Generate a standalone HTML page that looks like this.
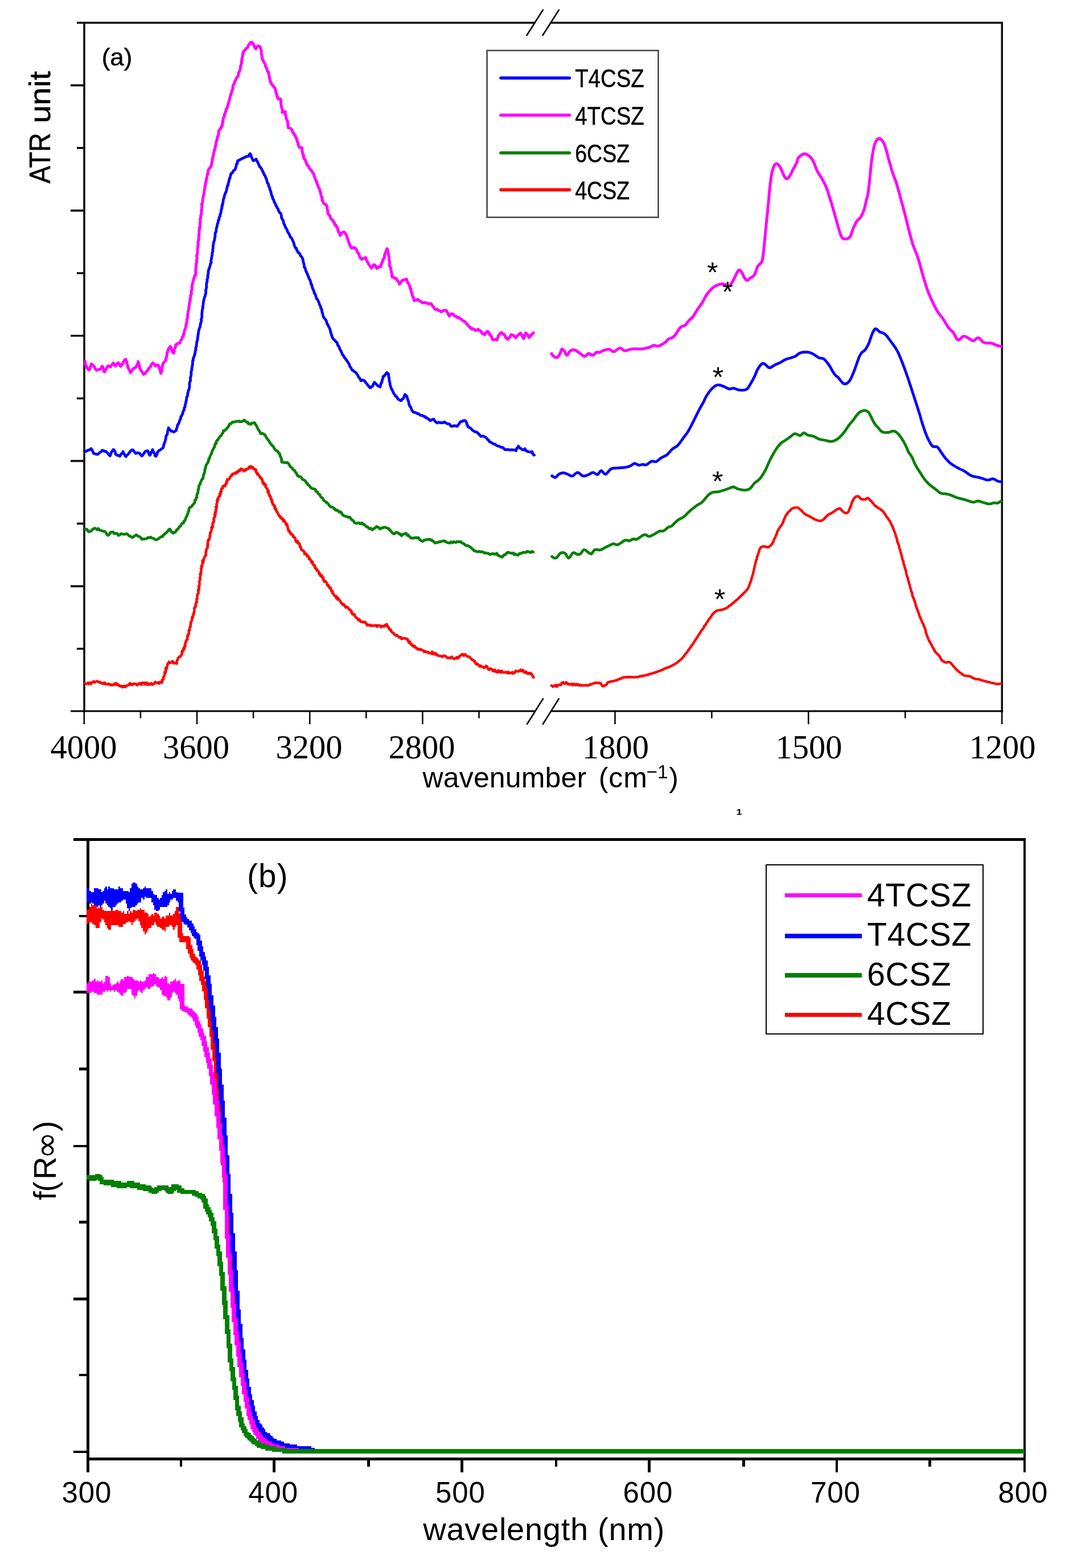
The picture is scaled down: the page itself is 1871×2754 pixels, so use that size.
<!DOCTYPE html>
<html lang="en"><head><meta charset="utf-8"><title>ATR and UV-Vis spectra</title>
<style>html,body{margin:0;padding:0;background:#fff}body{width:1871px;height:2754px;overflow:hidden}svg{display:block}.sa{font-family:"Liberation Sans",sans-serif;fill:#000}.se{font-family:"Liberation Serif",serif;fill:#000}.c{fill:none;stroke-linejoin:round;stroke-linecap:butt}.sw{stroke:#000;stroke-width:.5px}</style></head><body>
<svg width="1871" height="2754" viewBox="0 0 1871 2754">
<rect width="1871" height="2754" fill="#fff"/>
<g id="chart-a">
<path d="M148.0 40.0V1250.8M1760.3 40.0V1250.8M135.0 40.0H939.5M968 40.0H1762.1M124.0 149.9H148.0M135.0 259.9H148.0M124.0 369.9H148.0M135.0 479.8H148.0M124.0 589.8H148.0M135.0 699.7H148.0M124.0 809.6H148.0M135.0 919.6H148.0M124.0 1029.6H148.0M135.0 1139.5H148.0" fill="none" stroke="#111" stroke-width="3.6"/>
<path d="M124.0 1249.0H939.5M968 1249.0H1762.1" fill="none" stroke="#000" stroke-width="3"/>
<path d="M147.8 1249.0v23M246.9 1249.0v12.5M346.0 1249.0v23M445.1 1249.0v12.5M544.2 1249.0v23M643.3 1249.0v12.5M742.4 1249.0v23M841.5 1249.0v12.5M1080.5 1249.0v23M1250.4 1249.0v12.5M1420.3 1249.0v23M1590.3 1249.0v12.5M1760.2 1249.0v23" fill="none" stroke="#000" stroke-width="2.5"/>
<path class="c" stroke="#ff0000" stroke-width="4.4" d="M148.2 1202.0L149.4 1200.4L150.7 1201.2L151.4 1201.4L153.0 1200.8L154.6 1199.2L156.9 1201.7L157.7 1199.0L160.0 1201.3L161.3 1198.8L163.4 1197.1L164.6 1197.6L164.6 1196.6L166.3 1198.8L167.5 1197.6L169.7 1197.0L170.9 1196.1L171.4 1197.0L174.0 1198.1L174.7 1199.0L176.3 1198.1L178.3 1199.9L178.7 1199.7L180.6 1201.2L182.4 1199.2L184.3 1198.9L184.6 1201.6L185.5 1200.8L186.7 1201.8L189.5 1201.7L191.1 1201.0L192.2 1202.4L193.4 1201.8L195.3 1203.5L196.0 1202.4L196.6 1202.5L199.1 1203.5L200.9 1200.8L201.5 1202.1L202.2 1201.3L203.9 1199.9L205.0 1202.9L206.5 1201.5L208.4 1204.4L209.1 1203.3L211.4 1205.5L213.2 1206.0L213.6 1204.8L215.3 1207.0L218.0 1204.6L218.1 1205.3L219.8 1206.7L221.8 1204.8L221.9 1204.3L223.9 1203.8L226.3 1203.2L226.7 1201.8L228.4 1199.8L230.2 1202.7L231.6 1202.9L232.1 1201.5L232.9 1202.6L234.3 1200.6L236.0 1201.1L237.6 1200.8L238.4 1201.3L240.0 1201.9L241.2 1203.6L243.8 1200.6L244.5 1201.1L246.1 1200.0L248.4 1203.0L249.1 1200.8L249.8 1199.1L251.7 1199.5L254.0 1199.2L253.9 1202.3L256.3 1199.4L257.7 1199.0L259.1 1202.8L261.1 1201.8L261.4 1200.6L262.6 1202.3L264.7 1202.4L265.7 1200.0L268.0 1202.6L269.5 1201.6L270.8 1201.0L271.1 1199.8L272.7 1197.7L273.5 1198.3L275.3 1199.6L278.2 1198.6L279.7 1200.7L281.4 1198.3L281.5 1197.8L283.1 1197.7L284.4 1198.9L285.4 1195.9L285.5 1195.7L285.0 1193.8L287.1 1192.9L287.3 1190.3L286.7 1190.1L287.6 1188.7L289.3 1185.8L288.7 1186.4L289.7 1182.0L289.0 1180.5L290.9 1181.6L289.9 1180.2L291.9 1178.1L291.1 1176.3L291.2 1172.8L293.2 1173.8L292.8 1173.4L293.0 1171.7L294.4 1167.9L294.0 1166.9L294.6 1166.7L295.2 1164.7L295.6 1165.3L296.7 1162.3L298.6 1164.1L299.7 1164.4L301.3 1163.1L302.8 1161.3L304.1 1162.2L304.9 1165.1L306.8 1164.4L309.4 1165.2L310.2 1165.6L310.9 1165.1L310.4 1162.6L310.9 1160.0L312.1 1159.3L312.0 1158.7L312.9 1155.9L313.4 1155.0L314.3 1154.7L315.2 1153.0L316.3 1153.5L317.8 1152.2L319.3 1148.8L319.1 1150.1L320.2 1145.7L319.4 1145.6L319.8 1143.5L320.3 1143.8L322.2 1143.3L321.5 1141.3L323.0 1137.8L324.0 1139.6L323.2 1138.3L324.1 1135.2L325.8 1135.2L324.7 1132.2L325.8 1130.5L325.7 1128.9L327.1 1126.4L327.3 1126.6L326.8 1124.7L328.4 1124.0L327.8 1124.4L329.6 1122.9L328.8 1118.8L329.1 1119.3L329.9 1115.3L330.5 1116.8L331.6 1112.9L330.7 1113.9L331.9 1111.7L331.4 1107.8L332.9 1107.7L332.1 1108.2L333.5 1106.2L332.8 1104.9L333.1 1103.5L334.2 1100.1L334.8 1100.8L334.6 1096.3L335.5 1095.3L335.0 1093.5L335.3 1092.2L336.2 1091.2L337.4 1089.6L337.2 1087.7L337.3 1085.7L337.5 1084.2L338.8 1084.8L338.1 1083.0L339.9 1080.2L340.0 1079.9L339.8 1080.0L340.0 1077.3L340.9 1077.7L340.6 1075.6L341.7 1073.4L341.5 1070.9L341.2 1068.6L341.5 1069.4L342.3 1065.8L342.3 1066.9L344.2 1064.8L343.4 1061.7L343.8 1061.1L343.9 1059.6L344.4 1060.2L346.1 1057.2L345.1 1057.4L345.6 1053.7L345.3 1052.4L346.6 1051.4L346.4 1050.0L346.2 1047.7L346.6 1046.8L346.7 1044.0L347.3 1043.4L348.1 1043.1L348.6 1042.2L348.7 1041.6L348.2 1038.1L349.5 1036.0L349.2 1036.5L348.1 1035.8L349.9 1033.6L349.8 1032.9L348.8 1030.4L349.7 1030.2L350.5 1028.8L350.2 1027.6L350.6 1025.4L349.9 1021.5L349.9 1021.4L350.0 1021.8L351.1 1019.6L351.4 1018.4L351.3 1014.4L352.1 1015.8L351.7 1013.6L352.2 1010.4L352.5 1009.7L351.4 1008.4L352.9 1006.7L353.1 1008.3L352.8 1004.6L352.9 1004.3L353.7 1002.7L353.6 999.2L352.9 998.4L354.4 997.2L354.3 994.7L353.6 994.2L355.1 994.4L355.4 991.4L355.4 990.6L355.6 987.9L356.7 986.7L357.1 988.1L355.6 984.8L357.8 985.4L357.8 981.4L358.0 982.6L358.7 979.9L359.2 978.3L361.4 975.5L361.8 975.5L362.2 974.9L361.3 974.2L362.0 969.5L361.4 969.8L362.5 967.7L362.1 966.5L362.7 966.9L362.4 965.2L364.3 961.4L364.7 962.2L364.9 959.2L364.2 958.2L365.6 957.5L364.7 955.5L364.8 952.7L364.7 954.2L365.3 953.2L365.5 949.3L366.4 947.6L366.5 949.1L367.9 947.2L367.8 946.2L368.7 943.4L368.7 940.1L369.1 940.2L369.5 939.6L369.0 935.9L370.6 934.8L370.1 934.2L370.2 934.3L371.8 931.1L371.6 929.9L371.8 928.9L371.4 926.6L371.9 928.0L372.8 924.0L374.0 925.6L373.5 920.9L373.4 919.3L374.1 918.0L374.2 917.2L375.2 918.2L376.0 915.0L375.6 914.0L375.8 911.9L375.4 910.3L377.4 908.3L376.8 908.9L377.7 905.9L376.8 904.6L377.3 904.0L378.6 904.1L378.7 899.6L377.4 900.8L379.3 898.5L378.9 895.3L378.8 897.4L379.9 895.8L380.4 892.1L379.1 890.3L380.1 890.9L381.1 889.7L380.8 888.5L380.7 886.3L380.2 885.7L380.8 884.9L381.8 881.1L381.1 879.6L382.6 879.9L382.1 876.2L383.4 876.8L383.6 874.1L384.5 872.0L384.4 872.3L386.2 871.7L386.6 869.7L385.8 867.5L387.7 867.9L387.0 864.0L387.8 865.2L388.2 862.2L389.1 863.4L388.8 858.7L389.5 858.9L390.7 856.7L391.4 857.4L391.3 854.0L393.4 853.7L394.3 852.6L394.4 853.8L395.7 853.7L396.7 849.4L396.7 848.9L398.2 849.5L397.8 846.0L398.5 846.9L399.0 842.0L399.4 841.9L401.6 842.4L402.5 841.8L404.0 838.3L403.8 839.6L406.0 835.2L407.1 835.5L407.7 834.3L408.5 832.1L409.9 832.4L412.5 830.8L413.7 830.3L413.9 831.8L416.0 829.6L415.8 828.9L417.7 829.8L418.6 826.9L421.2 824.9L421.6 827.1L423.5 823.3L423.7 823.8L427.0 824.9L428.2 827.8L429.0 825.8L431.4 826.3L431.3 825.9L432.7 823.5L433.3 824.5L436.3 823.3L437.6 820.2L437.4 821.1L440.0 822.2L440.2 818.7L441.6 820.6L443.9 820.3L444.9 823.3L446.3 824.3L447.2 823.5L448.0 824.6L449.6 824.7L449.3 828.4L450.2 827.0L450.6 830.0L451.9 832.8L453.8 834.1L453.4 831.8L453.9 834.6L455.8 835.6L455.7 836.6L457.3 838.8L458.3 840.6L458.9 839.1L459.9 841.0L460.1 842.5L461.2 843.1L461.0 844.5L461.5 848.1L463.1 847.2L463.5 850.9L464.4 849.3L465.7 852.1L466.8 851.2L466.5 855.2L468.0 856.7L467.0 855.7L467.7 856.6L469.9 859.4L470.3 859.9L470.8 861.5L470.2 864.1L472.0 862.8L471.9 866.1L471.7 866.4L472.1 867.1L472.9 869.9L474.2 869.7L473.6 871.5L475.4 872.3L475.2 873.7L476.7 876.3L475.9 875.9L477.0 878.9L478.0 878.5L477.7 882.1L478.7 881.8L479.1 885.7L479.6 885.5L480.4 886.2L482.0 889.6L481.7 887.8L483.1 889.1L482.4 893.0L483.8 894.0L484.5 895.4L485.2 894.0L485.1 896.7L486.9 899.3L486.5 899.5L487.7 900.3L488.0 900.7L489.4 904.4L489.2 904.0L491.2 907.0L490.7 905.1L492.8 909.6L492.6 907.3L494.5 909.6L495.5 911.6L496.4 910.9L497.4 912.2L497.7 915.6L499.6 914.1L499.5 916.0L501.1 917.0L501.4 917.5L503.1 921.3L502.3 921.4L504.2 920.7L504.9 922.3L505.0 925.3L505.6 925.7L505.7 928.0L506.2 929.7L506.8 930.1L506.5 932.1L507.9 932.0L509.0 935.4L509.3 934.2L510.2 935.1L510.5 937.5L511.3 938.6L513.0 938.2L514.2 939.5L515.3 943.3L515.7 941.7L516.6 944.0L518.4 944.3L519.1 948.7L519.8 949.1L519.7 950.9L521.1 951.9L522.7 950.1L523.3 954.2L522.7 953.2L524.8 953.6L525.9 955.2L526.5 955.9L526.7 960.1L526.9 958.8L528.3 960.2L528.2 960.8L529.2 964.9L531.0 965.9L530.8 966.7L531.5 966.9L533.3 967.4L534.5 969.4L534.9 971.7L534.9 973.3L536.8 972.1L538.0 972.8L539.3 975.1L539.0 976.9L540.0 975.8L541.5 976.5L542.6 978.4L543.1 982.3L543.9 982.2L544.3 980.8L544.7 982.5L546.7 984.7L547.3 987.7L547.4 986.3L549.2 986.7L548.7 989.2L549.7 990.4L550.7 992.4L552.2 992.2L553.1 994.4L552.9 997.3L553.9 995.5L554.4 998.6L556.7 1000.3L556.6 999.5L556.6 1002.2L558.5 1002.2L559.4 1003.8L560.8 1006.0L560.3 1007.9L560.8 1007.6L562.3 1007.7L562.5 1010.9L563.2 1011.2L565.8 1010.8L565.2 1013.7L566.7 1015.0L568.1 1014.4L568.0 1016.1L568.3 1019.5L570.5 1020.0L569.9 1021.6L572.1 1021.4L572.9 1022.5L572.8 1022.3L573.6 1023.2L574.7 1027.1L576.1 1028.7L577.0 1027.6L577.5 1029.5L578.7 1031.0L578.5 1032.6L580.6 1032.2L581.2 1032.6L580.9 1034.7L582.6 1038.5L583.4 1037.4L584.4 1038.6L584.0 1042.0L585.5 1042.3L586.4 1044.6L586.8 1045.3L588.0 1046.5L588.6 1047.1L589.8 1046.5L590.2 1048.8L591.0 1050.9L592.1 1048.6L593.1 1053.1L594.6 1051.2L595.0 1051.9L597.3 1055.2L598.3 1056.6L598.1 1057.1L599.7 1059.0L601.6 1060.4L601.2 1061.5L603.8 1062.9L603.3 1061.2L604.3 1061.7L606.7 1065.8L607.3 1067.0L608.6 1065.7L608.9 1065.8L611.4 1067.0L611.9 1068.7L612.7 1068.9L614.5 1071.4L615.5 1071.2L617.4 1073.2L618.0 1075.0L617.2 1075.5L618.8 1078.2L619.4 1079.3L620.8 1078.3L622.5 1078.8L623.4 1080.0L622.9 1081.1L625.4 1084.9L625.1 1084.0L627.0 1086.1L627.5 1085.9L628.9 1088.1L629.8 1089.4L630.9 1087.6L632.7 1089.6L632.9 1090.8L634.1 1092.1L636.5 1092.9L637.6 1091.9L638.5 1092.8L640.7 1092.4L641.9 1092.9L641.9 1094.5L644.5 1096.1L644.8 1098.3L645.9 1097.0L647.9 1098.3L649.7 1098.2L650.3 1097.2L651.4 1099.4L653.7 1099.3L654.2 1098.4L656.8 1099.1L657.0 1098.9L659.8 1098.2L659.9 1098.5L662.3 1100.7L662.6 1098.2L664.2 1099.0L666.1 1098.4L667.2 1098.6L669.8 1100.8L669.6 1101.8L671.2 1099.3L674.4 1100.5L675.5 1098.8L676.1 1099.3L677.5 1097.3L679.6 1096.4L680.5 1100.5L682.0 1100.7L682.8 1101.8L682.8 1103.6L684.2 1105.4L686.0 1105.5L686.3 1107.9L687.1 1107.1L688.8 1110.7L690.1 1111.2L691.4 1112.2L692.1 1112.5L692.6 1114.3L693.3 1114.6L696.0 1116.4L697.1 1115.3L698.1 1116.8L699.9 1117.3L701.3 1119.9L701.8 1119.5L704.3 1119.2L705.1 1122.1L705.9 1120.6L707.7 1121.7L710.7 1120.8L710.7 1121.2L713.2 1121.9L714.7 1121.8L716.2 1122.5L716.3 1125.3L716.7 1125.4L718.0 1126.9L718.3 1128.9L719.7 1126.5L720.4 1129.0L720.8 1130.2L722.4 1132.5L723.5 1131.6L724.5 1134.2L727.1 1134.1L727.0 1135.9L728.5 1134.5L729.3 1137.4L731.8 1137.6L732.4 1138.1L733.1 1140.4L734.8 1139.9L737.0 1141.3L737.8 1140.0L739.3 1140.1L741.2 1141.7L742.6 1142.1L743.1 1142.7L744.6 1143.2L745.2 1145.4L747.2 1143.8L748.6 1145.0L750.3 1145.8L752.2 1144.9L754.1 1147.0L753.9 1147.2L756.9 1147.2L756.9 1147.6L759.2 1144.7L759.5 1148.8L762.1 1146.5L762.5 1146.6L764.1 1149.5L765.7 1147.5L768.2 1150.4L768.2 1151.3L770.5 1151.3L772.0 1152.2L773.6 1152.4L773.9 1152.2L776.0 1152.8L777.2 1153.7L778.9 1151.7L779.7 1151.6L781.6 1151.7L783.0 1152.4L784.5 1154.1L786.0 1155.9L786.4 1155.9L788.8 1155.0L790.6 1156.2L791.5 1154.7L794.0 1153.5L794.9 1155.8L795.2 1155.8L797.9 1157.2L798.6 1157.5L800.4 1155.8L802.6 1154.2L803.7 1156.6L804.1 1156.5L805.3 1154.2L806.8 1154.4L807.3 1152.2L808.8 1151.8L810.7 1149.9L811.9 1149.4L812.8 1148.9L814.4 1151.6L816.3 1150.9L817.3 1149.1L818.4 1150.9L820.2 1152.4L820.3 1153.0L823.1 1153.1L822.7 1152.9L823.8 1153.3L826.7 1155.7L827.4 1157.2L828.9 1157.6L829.4 1158.7L830.6 1159.6L831.6 1159.2L832.7 1161.2L833.9 1160.9L833.9 1161.7L836.0 1166.1L836.9 1165.1L838.4 1167.4L839.2 1166.1L839.9 1167.4L841.2 1168.1L843.0 1170.7L843.1 1170.1L844.3 1169.1L847.0 1171.5L848.5 1171.7L848.3 1171.2L851.0 1173.1L853.3 1171.1L853.8 1169.5L855.6 1170.7L856.0 1170.8L857.1 1174.1L858.7 1176.0L860.0 1176.4L861.4 1174.0L863.9 1175.7L865.3 1175.8L865.4 1178.4L868.1 1179.1L869.6 1176.5L870.8 1179.2L871.9 1180.4L872.9 1180.9L875.2 1177.6L875.2 1180.4L878.2 1178.3L878.6 1180.8L879.7 1181.4L881.8 1178.4L882.9 1180.5L884.5 1180.9L885.3 1181.5L887.2 1180.9L889.1 1180.2L890.0 1181.7L892.5 1181.8L893.2 1180.0L893.6 1182.7L896.2 1182.2L896.9 1181.5L899.6 1182.5L900.3 1180.6L901.4 1182.9L902.6 1181.5L904.4 1181.7L906.1 1178.8L906.0 1178.2L908.1 1178.8L910.2 1179.4L910.1 1178.6L913.2 1178.7L914.3 1176.4L916.4 1178.5L917.7 1178.9L918.3 1176.5L920.0 1180.1L920.6 1180.7L923.2 1179.6L923.9 1182.1L925.2 1180.6L926.4 1182.9L929.0 1182.1L929.2 1183.6L932.1 1181.7L933.3 1184.5L934.8 1184.4L935.0 1186.0L935.4 1185.8L936.3 1189.0L937.6 1189.8L938.9 1190.9"/>
<path class="c" stroke="#ff0000" stroke-width="4.4" d="M968.0 1205.8L968.7 1203.9L970.6 1205.1L971.4 1206.1L973.5 1204.1L975.1 1204.6L976.8 1203.1L978.1 1206.3L980.1 1204.0L981.2 1202.7L982.8 1202.6L984.3 1203.0L985.7 1203.0L986.7 1199.2L988.1 1199.1L989.4 1198.3L991.2 1200.6L992.7 1200.8L994.7 1198.3L996.0 1199.6L997.2 1201.7L998.9 1201.0L1000.8 1202.6L1002.4 1201.4L1003.8 1201.1L1005.8 1203.5L1006.8 1201.0L1008.5 1201.9L1010.6 1203.4L1012.1 1201.2L1013.7 1202.9L1015.1 1203.7L1016.1 1201.8L1018.4 1203.9L1019.9 1202.8L1021.4 1204.2L1022.6 1203.6L1024.3 1203.5L1026.0 1203.8L1027.4 1203.8L1029.3 1203.3L1030.8 1203.3L1031.8 1204.3L1033.5 1203.8L1035.6 1203.1L1036.6 1201.7L1038.3 1202.2L1040.4 1201.3L1041.7 1200.4L1043.7 1200.3L1045.2 1199.4L1046.6 1198.9L1048.7 1199.6L1049.8 1200.0L1051.4 1199.2L1052.6 1199.1L1054.9 1199.8L1055.8 1201.2L1057.1 1203.2L1058.1 1204.6L1059.2 1205.4L1061.0 1204.7L1062.1 1204.4L1063.0 1203.4L1064.3 1203.3L1066.0 1201.8L1066.7 1199.6L1069.1 1198.2L1070.2 1198.0L1071.9 1197.2L1073.3 1197.2L1074.4 1196.4L1076.7 1196.7L1077.9 1196.2L1080.1 1195.5L1081.5 1195.0L1082.7 1195.4L1084.6 1194.1L1085.6 1193.4L1087.4 1193.3L1088.6 1192.3L1090.2 1192.2L1091.7 1191.5L1092.6 1190.3L1094.4 1190.2L1095.8 1189.4L1097.5 1189.5L1099.1 1189.9L1100.4 1188.9L1102.3 1189.3L1103.9 1189.1L1104.9 1189.7L1106.6 1189.0L1108.2 1189.4L1109.5 1189.3L1111.4 1189.2L1112.6 1189.4L1114.7 1189.5L1115.9 1189.3L1117.5 1189.3L1118.9 1189.3L1121.4 1188.7L1122.5 1188.5L1124.0 1187.8L1125.9 1187.7L1126.8 1187.3L1128.5 1187.7L1130.0 1186.7L1132.1 1186.4L1133.2 1186.4L1135.3 1186.0L1137.0 1185.2L1138.6 1185.3L1139.3 1184.4L1141.1 1184.3L1142.4 1183.6L1143.9 1183.1L1145.5 1183.3L1146.6 1182.5L1148.5 1181.7L1150.0 1181.8L1151.1 1180.9L1152.9 1180.5L1154.0 1180.3L1155.8 1179.2L1156.9 1178.7L1158.5 1178.6L1160.3 1177.9L1161.8 1177.3L1162.6 1176.4L1164.8 1176.2L1165.6 1175.2L1167.3 1174.6L1168.5 1173.8L1170.0 1173.5L1171.1 1172.7L1173.3 1172.6L1174.6 1172.0L1175.8 1171.6L1177.2 1170.5L1178.4 1170.0L1179.8 1169.4L1181.2 1169.0L1182.5 1167.9L1183.7 1167.3L1185.3 1166.5L1186.1 1166.0L1187.2 1165.2L1189.2 1164.3L1190.0 1163.4L1191.5 1162.3L1192.5 1161.3L1193.9 1160.4L1195.2 1159.1L1196.0 1158.3L1197.6 1157.4L1198.3 1156.4L1199.0 1155.4L1200.2 1154.1L1201.3 1152.9L1202.0 1151.6L1202.9 1150.5L1204.0 1149.3L1204.6 1147.9L1206.3 1146.6L1207.0 1145.5L1207.7 1144.6L1208.6 1143.2L1209.4 1141.6L1210.8 1140.6L1211.1 1139.3L1212.2 1138.3L1212.8 1136.7L1214.4 1135.8L1214.6 1134.2L1215.6 1133.2L1216.6 1132.0L1217.6 1130.5L1218.4 1129.4L1219.2 1127.9L1220.0 1126.8L1221.0 1125.1L1221.8 1123.8L1222.5 1122.9L1223.2 1121.9L1224.1 1120.2L1225.1 1119.3L1225.8 1117.7L1226.5 1116.5L1227.6 1115.1L1228.1 1114.0L1229.0 1112.6L1230.2 1111.6L1230.8 1110.1L1231.4 1108.8L1232.2 1107.7L1233.4 1106.1L1234.5 1105.0L1235.3 1104.0L1236.2 1102.4L1236.6 1101.5L1237.2 1099.6L1238.5 1098.6L1239.7 1097.4L1240.2 1096.1L1241.1 1094.5L1242.1 1093.1L1242.7 1091.9L1243.6 1090.8L1244.6 1089.3L1245.0 1088.1L1246.0 1087.0L1247.0 1086.1L1248.0 1084.8L1248.8 1083.3L1250.3 1081.6L1251.0 1080.4L1251.7 1078.8L1253.3 1077.9L1253.9 1076.3L1255.2 1075.6L1256.2 1074.9L1257.5 1073.7L1258.3 1072.9L1260.2 1072.4L1261.6 1071.9L1263.6 1071.8L1265.0 1071.8L1266.9 1071.0L1268.3 1071.2L1269.7 1070.7L1270.9 1069.9L1272.9 1069.5L1274.1 1068.8L1275.2 1068.4L1276.3 1067.7L1277.9 1067.1L1279.4 1065.8L1280.2 1064.8L1281.9 1063.9L1282.7 1063.0L1284.3 1062.3L1285.7 1061.2L1286.6 1059.7L1288.5 1058.7L1289.8 1057.7L1290.6 1056.6L1291.7 1055.9L1293.4 1054.5L1294.5 1053.4L1295.4 1052.6L1296.9 1051.5L1297.9 1050.3L1298.9 1048.9L1300.6 1048.1L1301.3 1047.0L1302.8 1045.6L1303.8 1044.9L1304.9 1043.8L1305.9 1042.3L1307.5 1041.1L1308.4 1040.3L1309.6 1039.1L1310.5 1037.6L1311.6 1036.5L1312.9 1035.5L1313.6 1034.1L1314.4 1032.9L1315.0 1031.6L1315.3 1030.8L1316.0 1029.1L1316.5 1027.7L1317.1 1025.9L1317.9 1024.9L1317.9 1023.8L1318.3 1022.3L1319.3 1020.8L1319.4 1019.7L1320.2 1017.9L1320.2 1016.7L1320.7 1015.3L1321.0 1013.7L1321.6 1011.8L1322.0 1010.1L1322.6 1008.8L1323.1 1007.6L1323.1 1006.0L1323.6 1004.5L1324.2 1003.0L1324.3 1001.7L1324.4 1000.3L1324.9 998.7L1325.4 997.1L1325.6 995.4L1325.8 994.4L1326.3 992.8L1326.5 991.4L1327.1 989.8L1327.4 988.0L1327.9 986.6L1328.1 985.3L1328.6 983.6L1329.5 982.3L1329.9 980.9L1329.7 979.1L1330.0 977.9L1330.9 976.4L1331.1 975.2L1331.7 973.8L1332.4 972.0L1332.8 970.2L1333.0 968.9L1334.0 967.2L1334.1 965.4L1334.8 964.2L1335.5 963.1L1336.0 962.1L1337.9 960.6L1339.7 960.1L1341.2 959.7L1342.6 959.8L1344.1 959.7L1346.1 960.7L1347.2 961.0L1349.3 961.3L1349.9 960.7L1351.2 960.3L1352.6 959.5L1354.3 957.8L1355.5 956.4L1356.2 955.6L1356.6 954.0L1357.8 952.9L1358.5 951.6L1359.0 950.2L1359.6 948.4L1359.9 947.0L1360.9 945.4L1362.0 943.6L1362.5 942.2L1363.1 941.2L1363.4 939.5L1364.6 938.1L1364.9 936.4L1365.1 934.9L1366.0 933.4L1366.6 932.0L1367.5 930.9L1367.8 929.4L1368.9 928.0L1370.1 926.6L1370.5 925.6L1371.3 924.3L1372.4 923.2L1373.5 921.8L1374.1 920.2L1375.0 918.8L1375.8 917.6L1376.0 915.8L1376.8 914.2L1377.2 912.6L1378.0 911.3L1378.8 909.5L1379.4 908.2L1380.0 906.8L1380.3 905.6L1382.0 904.2L1382.1 902.9L1383.6 901.7L1383.8 900.7L1385.2 899.3L1386.2 898.2L1387.6 897.4L1388.5 896.5L1389.7 895.0L1390.6 893.9L1391.6 893.4L1393.4 892.4L1394.5 891.9L1396.7 891.7L1397.8 891.4L1399.9 891.4L1400.9 891.4L1402.7 892.0L1403.6 893.0L1404.9 894.2L1406.0 895.0L1407.5 896.4L1408.9 897.6L1410.1 899.0L1411.0 900.2L1412.0 901.4L1413.8 902.4L1415.1 903.2L1416.2 904.4L1417.3 904.5L1419.0 905.3L1420.6 905.8L1422.1 906.9L1423.5 907.4L1424.4 908.3L1426.0 909.0L1427.2 909.8L1428.8 910.9L1430.4 911.3L1431.2 912.2L1432.8 912.7L1434.1 913.2L1435.9 913.9L1438.1 914.5L1439.6 914.9L1441.2 914.8L1442.5 914.5L1443.9 914.3L1444.8 913.6L1446.6 912.7L1447.5 911.5L1448.5 910.8L1449.5 909.2L1451.3 908.0L1452.0 906.7L1453.5 905.4L1454.8 904.3L1456.5 903.2L1457.7 902.4L1459.9 902.0L1460.9 901.3L1462.3 900.1L1463.9 899.2L1465.2 898.4L1466.4 897.4L1467.6 896.5L1469.2 895.5L1470.8 894.4L1472.4 893.9L1474.0 893.2L1475.7 893.0L1477.2 894.0L1477.7 895.4L1479.2 896.7L1480.9 898.4L1482.0 899.3L1483.7 900.2L1484.9 901.1L1486.3 901.5L1487.9 901.0L1489.2 900.3L1490.2 899.4L1490.9 898.0L1491.7 896.7L1491.9 895.0L1492.8 893.3L1493.6 892.1L1493.7 890.5L1494.7 889.3L1495.2 887.3L1495.6 885.8L1496.1 884.6L1496.3 883.2L1497.3 881.6L1497.4 880.5L1498.9 878.7L1499.3 876.8L1500.2 875.8L1501.2 874.5L1502.2 873.6L1503.8 872.1L1505.8 871.6L1507.3 871.8L1508.7 872.0L1509.5 873.2L1510.9 874.8L1512.4 875.6L1513.2 876.9L1515.3 877.2L1516.7 877.3L1518.6 877.4L1520.1 877.4L1521.1 876.3L1522.7 875.3L1524.6 874.6L1525.5 875.3L1526.9 876.4L1528.1 877.5L1529.1 879.1L1530.8 880.3L1531.9 881.8L1532.6 882.7L1534.2 884.0L1534.9 885.5L1536.1 886.9L1537.5 888.4L1539.2 889.1L1540.1 890.5L1541.7 891.4L1543.0 892.2L1544.3 893.0L1546.1 894.1L1547.6 895.0L1548.5 896.0L1550.1 897.0L1551.2 898.0L1552.2 899.3L1552.8 900.5L1553.9 902.1L1555.0 903.1L1555.7 904.4L1556.7 905.8L1557.4 907.6L1558.7 908.7L1559.7 909.9L1560.3 911.1L1561.3 912.6L1562.5 914.1L1563.6 915.5L1564.4 917.0L1564.6 918.4L1565.8 920.3L1566.3 921.5L1566.9 922.9L1567.2 924.0L1568.5 925.3L1568.5 926.6L1569.0 928.1L1570.0 929.5L1570.3 931.0L1571.0 932.9L1571.6 934.1L1572.3 936.1L1572.6 937.0L1573.2 938.7L1573.3 939.7L1573.6 941.2L1574.6 942.7L1575.0 943.8L1575.0 945.5L1575.7 946.8L1576.2 948.3L1576.1 949.9L1576.6 951.5L1577.3 953.1L1578.0 954.6L1578.4 956.2L1579.1 957.8L1579.6 958.9L1579.7 960.7L1579.8 961.8L1580.1 963.2L1581.0 964.7L1581.5 966.4L1581.7 968.0L1582.1 969.6L1582.6 970.9L1583.1 972.5L1583.5 974.3L1584.0 975.6L1584.4 977.5L1584.6 978.7L1585.1 980.6L1585.2 981.7L1585.9 983.6L1586.5 984.9L1587.1 986.4L1587.4 987.8L1587.2 989.3L1587.6 991.0L1588.5 992.3L1589.2 993.9L1589.0 995.3L1589.8 997.2L1589.8 998.3L1590.7 999.9L1591.3 1001.5L1591.4 1002.9L1592.0 1004.5L1592.0 1006.2L1592.3 1007.6L1592.6 1009.1L1593.3 1010.7L1593.5 1012.0L1594.2 1013.7L1595.0 1015.0L1594.8 1016.3L1595.3 1017.9L1595.6 1019.3L1596.5 1020.9L1596.5 1022.6L1596.8 1023.8L1597.1 1025.4L1598.1 1026.6L1598.4 1028.4L1598.4 1029.6L1599.0 1031.4L1599.2 1032.8L1599.9 1034.1L1600.3 1035.9L1600.5 1037.4L1601.1 1038.9L1602.0 1040.2L1602.5 1042.2L1602.4 1043.1L1602.7 1045.0L1603.1 1046.4L1603.7 1047.8L1604.2 1049.1L1605.1 1050.6L1605.4 1052.5L1606.2 1054.1L1606.9 1055.2L1606.9 1057.2L1607.8 1058.4L1608.2 1060.1L1608.6 1061.5L1608.8 1063.5L1609.6 1064.9L1609.9 1066.2L1610.4 1067.6L1610.9 1069.1L1611.4 1070.4L1612.1 1071.4L1612.4 1072.8L1613.2 1073.8L1613.0 1075.2L1614.3 1077.4L1614.5 1079.0L1615.0 1080.5L1615.3 1082.0L1616.0 1083.2L1616.4 1084.0L1617.1 1085.5L1617.5 1086.6L1618.1 1088.2L1618.9 1089.5L1619.1 1090.7L1619.8 1092.4L1620.4 1093.5L1621.1 1094.8L1622.2 1096.1L1622.6 1098.0L1622.9 1099.3L1623.7 1100.6L1624.1 1102.1L1625.1 1103.8L1625.6 1104.8L1625.8 1106.4L1626.2 1108.0L1626.4 1109.8L1626.5 1111.1L1627.6 1112.5L1627.8 1114.2L1627.9 1115.4L1628.8 1116.7L1629.2 1118.0L1629.7 1119.7L1630.5 1121.0L1631.1 1122.5L1631.5 1123.9L1632.2 1125.4L1633.1 1126.6L1633.9 1127.9L1634.4 1129.1L1635.7 1130.8L1636.2 1132.2L1637.2 1133.5L1637.5 1135.3L1638.5 1136.8L1639.6 1138.5L1640.5 1139.6L1640.9 1141.4L1642.1 1142.4L1642.3 1143.8L1643.0 1144.9L1645.0 1146.8L1646.0 1147.8L1647.2 1149.3L1648.7 1150.1L1649.6 1151.5L1650.7 1152.4L1651.4 1153.9L1652.0 1155.3L1652.7 1156.8L1653.4 1157.9L1654.2 1159.3L1655.2 1160.2L1656.9 1161.3L1657.9 1162.1L1659.6 1162.7L1660.8 1163.5L1662.0 1163.5L1664.1 1163.4L1665.4 1162.8L1667.1 1162.9L1668.8 1163.3L1669.7 1164.2L1671.1 1165.1L1671.7 1166.4L1673.2 1167.5L1674.2 1169.1L1674.9 1170.4L1675.9 1171.2L1677.2 1172.5L1678.1 1173.7L1679.5 1174.9L1680.0 1176.0L1681.6 1177.1L1683.2 1178.2L1684.0 1179.4L1685.1 1180.1L1686.4 1181.3L1687.8 1182.2L1688.9 1182.8L1690.4 1184.0L1691.8 1185.0L1692.5 1185.4L1693.7 1186.3L1695.3 1186.5L1697.5 1187.1L1698.5 1187.2L1700.5 1187.2L1701.6 1187.5L1703.4 1187.8L1705.3 1188.5L1706.6 1188.8L1707.6 1189.8L1708.7 1190.8L1710.3 1191.2L1711.6 1191.9L1713.3 1192.5L1714.8 1192.9L1715.9 1192.9L1718.0 1193.1L1719.6 1193.0L1720.5 1193.3L1722.3 1193.9L1723.7 1194.6L1725.5 1195.1L1727.5 1195.5L1729.0 1196.0L1729.8 1196.3L1731.7 1196.7L1733.3 1197.0L1734.8 1197.6L1736.5 1197.9L1738.6 1198.2L1739.8 1198.8L1741.4 1199.2L1742.7 1199.5L1744.9 1199.8L1746.7 1200.2L1748.1 1200.7L1749.9 1201.2L1751.2 1201.4L1753.0 1201.5L1754.5 1201.2L1756.7 1200.9L1758.3 1200.7L1759.0 1200.4L1760.3 1200.4"/>
<path class="c" stroke="#008000" stroke-width="4.8" d="M148.2 928.0L149.0 928.4L150.7 930.3L153.1 929.6L154.2 932.3L156.1 933.9L158.3 933.6L160.8 932.0L162.9 929.6L165.4 928.2L168.0 928.0L170.6 930.5L172.7 928.4L174.9 930.9L176.9 931.6L179.0 932.3L182.0 933.2L184.1 933.3L185.9 934.9L187.6 938.8L189.2 939.1L190.0 940.3L192.2 938.3L194.0 935.0L195.0 934.6L197.2 934.7L198.7 934.5L201.0 937.4L203.9 936.6L206.1 937.0L207.8 940.3L210.0 939.9L212.9 937.3L215.0 938.0L217.5 938.4L219.9 938.2L222.2 937.4L224.6 938.6L226.7 941.4L228.9 941.6L230.3 942.8L232.5 944.2L234.5 942.8L236.8 941.1L239.1 939.4L240.5 940.2L242.3 941.5L244.6 942.2L245.2 942.8L247.7 944.4L248.8 947.1L250.7 946.7L253.1 946.8L256.0 946.2L257.9 946.1L260.1 944.0L262.2 944.6L264.7 943.3L266.2 944.7L269.1 945.5L271.4 946.5L273.2 948.0L275.3 948.0L277.0 947.0L279.5 945.4L281.8 943.5L283.2 942.6L285.1 942.7L287.1 939.5L288.1 939.3L290.6 936.3L291.7 936.4L293.6 933.9L295.1 932.6L296.9 929.9L298.5 929.3L299.4 930.5L300.7 934.1L302.9 934.6L304.0 936.6L305.4 935.0L307.2 935.1L309.6 932.8L310.5 930.2L312.5 929.5L314.1 927.0L314.9 925.2L317.4 924.0L318.0 922.2L319.9 919.2L322.3 918.9L323.0 915.4L324.2 915.4L325.4 912.8L326.3 910.8L327.1 907.8L328.4 906.6L329.3 903.2L330.2 901.7L330.9 898.5L331.8 898.1L331.6 896.2L332.4 892.4L334.3 890.6L335.9 890.4L337.7 888.0L338.9 886.3L341.0 884.1L342.2 882.4L342.4 878.4L343.7 878.2L344.2 875.5L345.8 873.9L345.7 871.0L346.2 867.6L347.7 866.0L347.9 863.8L348.0 860.8L348.5 860.0L349.4 856.2L349.1 853.8L350.4 851.8L351.5 850.6L351.9 848.0L353.0 846.2L354.3 842.5L356.5 840.6L356.1 839.6L357.2 837.4L357.5 834.1L358.8 831.8L359.5 828.7L359.9 826.3L360.1 823.6L360.2 823.8L361.2 821.1L361.9 817.7L362.6 816.0L364.6 813.7L364.9 812.6L366.5 809.7L366.3 807.3L367.7 805.9L368.5 802.9L369.8 799.9L370.5 798.4L371.9 795.7L372.1 794.7L372.7 792.1L374.5 789.2L375.2 787.5L376.8 785.3L377.6 781.3L378.0 779.4L379.8 779.2L379.8 776.2L381.6 772.9L382.6 772.8L384.2 769.7L385.6 767.9L386.6 766.3L388.5 765.0L389.5 763.2L390.2 762.0L391.9 759.4L392.6 756.1L395.1 756.3L397.5 753.4L398.8 752.3L401.0 749.5L402.1 747.6L402.8 745.4L404.0 744.3L406.2 744.0L407.4 741.8L410.6 741.1L412.0 741.3L413.9 740.4L416.5 740.2L419.8 739.5L421.3 740.8L424.2 740.3L427.0 739.7L429.1 737.7L431.5 739.8L433.1 741.5L435.2 741.7L436.5 744.6L438.6 744.2L440.6 745.3L442.9 743.1L445.1 742.9L446.5 742.3L447.6 742.5L448.6 745.2L450.6 747.6L451.4 749.9L452.0 750.7L453.8 754.5L454.8 755.9L456.1 757.3L457.3 760.3L457.6 761.5L461.4 761.4L463.7 762.7L465.6 763.8L467.1 766.9L467.7 767.4L469.0 769.7L470.9 772.8L472.5 774.2L473.5 776.2L474.7 778.7L476.7 780.5L477.3 781.9L479.4 783.2L481.0 786.1L482.1 787.7L483.3 789.6L484.3 790.8L486.6 792.1L487.6 792.3L489.6 795.8L490.8 795.8L491.4 797.8L492.7 802.3L493.5 803.0L494.0 804.5L494.9 807.4L494.5 810.5L495.4 811.8L497.9 812.0L501.2 812.6L503.1 812.3L504.8 812.5L507.1 814.5L508.3 816.8L509.7 819.1L511.3 820.9L513.6 821.9L514.2 824.2L515.6 825.3L517.4 826.0L519.1 829.5L520.4 830.5L521.6 832.8L522.6 835.3L525.0 837.0L526.7 837.1L528.6 837.8L529.7 839.3L531.5 842.1L533.6 842.8L535.0 843.5L536.9 845.1L538.2 848.1L540.2 849.2L541.3 851.7L542.9 852.4L545.0 855.4L547.1 857.4L550.2 858.6L553.1 858.9L553.7 859.3L555.0 862.8L557.3 863.9L558.1 865.0L559.4 867.5L561.9 868.4L562.1 869.8L563.9 873.4L565.9 874.0L566.6 874.7L568.2 878.0L570.2 880.2L572.4 881.3L573.4 882.9L574.5 882.6L576.6 885.3L577.8 886.2L579.3 889.2L582.0 890.7L584.2 890.7L585.7 892.0L587.6 894.5L588.5 893.7L590.4 896.5L593.0 896.2L595.8 899.4L597.7 898.7L600.5 901.2L600.1 902.2L602.9 905.2L604.9 906.2L606.6 906.7L610.2 907.6L611.8 908.7L614.4 908.2L616.4 911.1L618.3 913.3L619.6 913.6L621.5 915.4L622.8 918.2L625.7 919.0L627.8 918.9L631.0 918.4L632.9 920.1L636.2 918.4L638.3 921.3L640.2 921.4L642.8 924.1L644.5 925.5L645.7 925.4L648.8 928.8L650.7 927.6L654.2 930.7L656.2 928.7L659.3 927.2L661.4 924.8L662.5 925.3L665.4 926.5L667.8 929.2L669.1 928.5L671.5 926.8L673.8 926.5L677.2 925.9L678.1 926.8L681.0 927.8L683.0 928.3L684.4 930.7L685.0 930.6L686.9 933.1L687.9 934.3L689.6 936.3L692.4 937.8L694.6 935.5L697.4 935.1L699.1 935.9L701.8 938.1L703.0 937.9L705.5 940.9L708.3 938.1L710.3 937.8L713.4 936.6L715.1 940.3L717.2 939.4L718.2 941.2L720.9 944.1L722.6 945.3L725.1 945.0L728.0 945.0L730.8 944.0L733.1 945.2L735.0 944.3L737.1 947.6L738.8 948.8L740.6 950.1L743.1 950.7L745.1 948.9L747.4 948.2L749.3 947.7L752.7 947.5L754.8 947.0L756.6 948.9L758.4 948.3L759.6 949.9L761.2 950.7L764.2 953.8L765.9 953.0L768.9 952.9L771.3 951.5L772.7 951.8L775.4 950.9L777.8 950.3L781.1 949.8L783.1 951.6L785.6 952.8L788.0 953.3L790.9 953.9L792.6 951.7L795.4 953.2L797.5 951.3L800.9 952.9L802.7 951.2L805.8 951.6L808.4 951.4L809.6 951.4L811.2 953.7L813.2 953.8L816.1 956.0L817.4 957.3L819.3 958.6L821.3 958.1L823.3 959.2L826.1 960.7L828.2 962.8L831.4 965.2L832.6 967.3L834.6 967.5L837.0 968.6L839.8 969.0L842.1 968.4L844.6 969.4L846.7 968.9L849.0 969.7L851.3 971.5L853.4 971.0L854.9 971.5L858.5 972.2L860.5 974.1L863.1 972.9L864.9 972.5L868.6 973.0L870.7 973.3L872.6 971.8L874.7 975.1L877.3 976.7L879.9 977.3L882.0 978.8L884.1 976.2L886.3 974.1L887.9 974.4L889.8 971.9L892.3 970.0L894.0 970.4L896.6 971.2L899.3 971.9L902.0 971.2L903.8 974.3L905.4 973.2L907.7 974.5L910.1 975.1L912.0 972.6L914.9 971.8L917.0 971.5L919.2 969.9L921.9 970.3L925.0 969.9L926.3 968.4L929.5 969.4L932.1 970.6L934.5 968.5L937.0 969.7L938.9 969.8"/>
<path class="c" stroke="#008000" stroke-width="4.8" d="M968.0 976.1L970.6 978.3L973.7 980.2L976.1 980.2L978.5 978.7L980.4 976.4L982.5 973.5L984.8 971.4L987.4 970.6L990.2 970.7L992.7 971.7L994.4 973.7L995.9 976.6L997.4 979.2L999.1 980.2L1000.9 978.8L1002.9 975.8L1005.0 972.6L1007.0 970.7L1009.8 971.1L1012.5 972.9L1014.9 974.2L1019.7 973.0L1021.7 970.5L1023.8 967.3L1026.0 965.4L1029.2 966.5L1032.3 969.2L1035.5 971.8L1038.7 973.0L1040.7 971.0L1042.7 967.7L1045.0 965.4L1047.9 965.2L1051.2 965.9L1054.5 966.0L1056.8 965.2L1058.9 964.1L1061.3 962.7L1064.0 961.2L1066.2 960.2L1068.7 958.9L1071.3 957.6L1073.9 956.4L1076.3 955.5L1078.2 954.9L1081.4 956.2L1084.6 957.1L1086.6 956.2L1089.0 954.7L1091.7 952.9L1094.4 951.1L1096.8 949.5L1098.8 948.6L1102.4 949.1L1105.2 950.2L1107.8 949.1L1110.6 947.4L1113.1 946.4L1117.8 947.6L1119.7 946.6L1122.1 945.1L1124.8 943.2L1127.4 941.4L1130.0 939.9L1132.1 939.1L1135.1 939.5L1137.5 941.3L1140.0 942.2L1142.3 941.8L1144.6 940.7L1147.1 939.4L1149.5 938.1L1151.9 936.7L1154.4 935.2L1156.8 933.7L1159.0 932.7L1162.2 932.9L1165.3 932.7L1167.6 931.3L1170.2 929.2L1172.7 927.0L1174.8 925.5L1179.6 924.2L1181.1 922.9L1182.8 921.2L1184.7 919.3L1186.7 917.3L1188.7 915.4L1190.7 913.7L1192.9 912.2L1195.2 911.0L1197.5 909.9L1199.7 908.7L1201.7 907.4L1203.9 905.5L1205.8 903.6L1207.6 901.5L1209.7 899.5L1212.0 897.4L1214.5 895.3L1217.0 893.3L1219.2 891.6L1221.4 889.8L1223.4 888.3L1225.5 886.8L1227.9 885.5L1230.5 884.2L1233.4 882.1L1235.1 880.3L1237.0 878.1L1238.9 875.7L1240.9 873.3L1242.8 871.2L1244.5 869.4L1247.4 867.1L1249.9 865.6L1252.4 864.7L1255.0 864.2L1257.6 864.2L1260.3 864.0L1263.4 863.3L1266.6 862.5L1269.8 861.5L1272.2 860.7L1274.6 860.0L1276.9 859.1L1279.3 858.3L1281.8 857.4L1284.3 856.3L1286.7 855.5L1288.8 855.2L1291.8 856.4L1295.2 858.3L1297.3 859.0L1299.9 859.6L1302.7 860.2L1305.4 860.7L1307.8 860.9L1311.3 860.7L1314.4 859.9L1317.3 858.3L1319.4 856.4L1321.3 853.9L1323.2 851.3L1325.2 848.8L1327.5 846.9L1329.9 845.2L1332.3 843.3L1334.7 840.9L1336.3 838.9L1338.0 836.7L1339.6 834.4L1341.2 831.9L1342.7 829.3L1344.2 826.7L1345.4 824.3L1346.6 821.9L1347.7 819.4L1348.7 816.9L1349.8 814.3L1351.0 811.8L1352.2 809.2L1353.4 806.7L1354.8 804.1L1356.1 801.5L1357.5 799.0L1358.9 796.5L1360.3 794.1L1361.7 791.8L1363.2 789.4L1364.8 787.0L1366.4 784.8L1368.0 782.7L1369.6 780.9L1371.2 779.2L1373.5 777.1L1375.9 775.6L1378.3 774.2L1380.5 772.8L1383.2 770.9L1385.8 769.0L1388.4 767.1L1391.0 765.0L1393.6 762.9L1396.3 761.7L1398.7 762.1L1401.2 763.3L1403.6 764.5L1405.8 764.9L1408.2 763.6L1410.2 761.4L1412.2 760.2L1415.0 761.6L1418.5 764.0L1421.0 764.6L1423.8 765.2L1426.8 765.7L1429.6 766.5L1432.0 767.6L1434.3 768.9L1436.6 770.2L1439.1 771.2L1441.7 772.0L1444.5 772.5L1447.4 773.0L1450.2 773.5L1452.9 774.1L1455.7 774.9L1458.5 775.4L1461.2 775.4L1464.0 774.7L1466.8 773.7L1469.6 772.2L1472.3 770.3L1474.2 768.7L1476.1 766.9L1478.1 764.9L1480.0 762.7L1481.7 760.6L1483.4 758.6L1485.2 756.2L1486.8 753.8L1488.3 751.4L1489.8 749.1L1491.3 746.9L1493.3 744.4L1495.3 742.0L1497.3 739.8L1499.2 737.4L1500.9 735.2L1502.5 733.0L1504.1 730.7L1505.7 728.7L1507.2 726.9L1509.4 724.8L1511.6 723.3L1513.5 722.2L1518.2 720.9L1521.4 721.3L1524.6 722.8L1526.2 724.6L1527.7 727.1L1529.3 730.1L1530.5 732.3L1531.7 734.9L1532.9 737.7L1534.3 740.3L1535.7 742.7L1537.6 745.4L1539.6 747.9L1541.7 750.2L1543.6 752.2L1545.6 754.8L1547.5 757.0L1549.9 758.6L1552.4 759.3L1555.4 759.6L1558.3 759.7L1561.0 759.5L1563.9 758.7L1566.4 757.5L1568.9 757.0L1571.5 757.5L1574.2 758.8L1576.8 760.8L1578.4 762.5L1580.1 764.5L1581.7 766.7L1583.3 769.0L1584.7 771.2L1586.1 773.4L1587.5 775.6L1588.7 777.9L1589.9 780.1L1591.1 782.3L1592.3 785.1L1593.5 788.0L1594.6 790.8L1595.8 793.4L1597.3 795.8L1598.9 798.0L1600.5 800.2L1602.2 802.9L1603.2 805.0L1604.2 807.4L1605.2 809.8L1606.3 812.4L1607.3 814.8L1608.5 817.2L1610.0 819.8L1611.5 822.4L1613.2 824.9L1614.8 827.4L1616.4 829.8L1618.0 832.3L1619.6 834.9L1621.2 837.3L1622.7 839.7L1624.3 841.9L1626.3 844.3L1628.3 846.5L1630.3 848.5L1632.2 850.4L1634.3 852.2L1636.3 853.8L1638.3 855.3L1640.2 856.7L1642.4 858.4L1644.4 860.0L1646.5 861.5L1648.3 863.2L1650.1 864.8L1652.8 866.2L1655.2 866.8L1658.0 867.1L1661.0 867.4L1664.1 867.8L1667.1 868.5L1669.5 869.2L1671.9 870.2L1674.3 871.3L1676.7 872.3L1679.0 873.3L1681.3 874.2L1683.9 874.9L1686.4 875.5L1688.8 876.1L1691.3 876.6L1694.0 877.3L1696.5 878.1L1699.3 879.1L1702.2 880.0L1705.0 881.0L1707.6 881.7L1709.8 882.1L1712.9 881.7L1715.2 880.5L1717.7 879.9L1720.3 880.3L1723.2 881.2L1726.1 882.2L1728.8 883.0L1732.2 884.0L1735.3 884.9L1738.3 885.2L1741.1 884.7L1743.8 883.7L1746.2 883.0L1749.4 883.5L1752.6 883.7L1755.3 882.3L1758.2 880.3L1760.3 878.9"/>
<path class="c" stroke="#0000ff" stroke-width="4.8" d="M148.2 793.4L148.7 792.9L151.9 792.5L154.1 791.0L155.9 790.4L157.8 790.0L160.0 787.9L161.8 790.6L162.2 791.6L163.9 794.6L164.4 796.5L168.3 797.4L171.0 798.2L173.3 796.7L174.9 795.3L177.6 793.4L179.5 790.9L181.7 791.3L183.1 792.9L185.9 792.6L187.2 794.1L189.4 795.9L191.1 798.7L193.5 800.6L194.4 797.9L195.1 796.2L196.4 793.1L197.7 791.8L198.8 789.6L200.1 790.1L201.4 792.1L202.7 794.7L203.1 797.7L204.3 798.6L206.5 799.8L208.2 799.8L210.5 801.4L211.8 799.1L213.4 797.0L215.2 795.7L216.2 792.9L217.3 796.7L218.4 797.4L219.9 800.7L221.3 802.0L222.1 800.3L223.9 798.9L225.1 797.8L226.8 795.7L229.0 792.6L230.9 791.0L231.9 790.1L233.8 790.4L235.7 793.1L238.2 796.4L240.8 795.4L244.4 795.6L245.8 796.9L246.9 798.3L249.0 800.9L250.7 799.7L252.5 796.4L253.2 796.0L255.2 792.8L257.7 792.1L259.6 791.6L261.0 794.8L261.6 797.6L263.2 799.7L264.4 798.0L265.0 794.9L266.8 793.0L268.0 789.6L269.4 793.2L269.8 794.8L271.7 796.7L272.3 800.5L273.9 801.4L274.9 799.5L275.9 798.2L276.5 795.0L277.7 792.9L279.6 791.1L282.0 790.1L283.2 788.8L285.7 787.2L286.7 785.9L287.4 782.7L288.0 780.2L288.8 778.3L289.1 777.7L290.1 775.3L290.5 772.7L291.2 771.2L291.3 768.6L292.1 765.3L293.3 763.8L294.0 762.0L294.4 758.4L294.5 756.8L295.9 754.1L295.9 751.3L297.6 754.2L299.0 754.9L300.8 757.4L303.1 757.6L305.4 758.7L309.5 756.3L309.6 754.9L310.4 752.5L311.3 750.0L311.7 747.5L312.6 745.3L313.9 744.3L314.3 742.3L315.6 739.3L316.2 736.7L317.6 735.2L317.6 732.1L319.1 730.3L320.1 727.7L321.1 726.6L321.3 723.9L322.1 721.9L323.5 719.9L323.7 716.3L324.9 715.0L325.1 712.1L326.0 709.3L326.6 707.1L326.7 704.9L327.5 703.0L327.5 700.4L328.2 697.3L329.2 695.8L329.7 693.9L329.8 690.4L330.8 688.0L330.8 685.7L332.0 684.6L332.4 682.5L333.0 678.9L332.9 677.5L332.9 675.0L333.2 671.6L334.0 669.6L334.7 668.8L334.5 665.1L334.5 663.5L335.2 661.0L335.7 659.0L336.0 655.9L335.6 654.2L336.3 651.7L336.8 649.4L336.8 647.6L337.5 645.9L337.4 643.0L338.3 641.7L338.3 637.8L338.4 636.6L338.6 633.2L339.6 632.6L339.4 629.6L340.6 627.2L340.7 626.0L342.1 623.3L342.1 621.1L342.8 620.1L343.1 616.6L344.1 614.1L343.8 611.8L344.2 610.5L345.2 607.6L344.9 606.6L345.5 603.6L345.5 601.2L346.7 598.8L346.3 597.9L347.3 596.0L347.2 593.9L347.7 590.4L347.9 589.1L348.5 585.8L348.3 585.2L348.8 582.6L349.6 579.1L350.1 577.1L351.4 574.1L351.9 572.1L351.8 570.6L352.6 567.1L353.2 566.0L353.9 563.2L353.3 561.2L354.2 559.2L354.8 555.7L354.9 554.4L354.6 551.1L355.0 548.8L355.2 546.0L355.3 545.2L355.8 542.4L356.5 540.3L356.1 538.3L356.9 536.1L357.1 533.3L357.4 530.0L357.9 528.0L358.6 525.2L358.9 523.4L359.8 521.1L360.4 519.9L361.0 516.2L361.7 515.1L361.7 512.7L361.3 510.9L362.1 507.9L362.2 506.3L362.9 504.2L362.6 500.9L362.9 498.2L363.3 495.8L364.1 494.0L363.6 491.4L364.6 489.5L364.6 487.6L365.2 486.5L365.0 483.6L365.8 481.1L366.1 479.4L365.8 477.4L366.7 473.6L367.4 472.8L368.0 469.8L368.6 468.4L369.5 464.8L369.9 462.8L371.2 461.2L370.7 459.3L370.9 456.4L371.6 454.3L371.9 450.7L372.3 449.9L372.9 446.6L372.7 445.1L373.6 441.7L374.0 440.9L373.8 437.4L374.4 436.1L374.2 432.6L374.7 431.1L374.9 428.4L375.5 426.3L375.6 424.6L376.9 421.5L377.1 418.5L377.6 416.9L377.9 415.2L377.9 413.0L378.2 408.9L378.9 408.4L379.8 406.2L379.8 403.8L380.3 400.0L381.0 399.1L381.4 396.4L381.9 393.6L382.7 391.8L383.4 388.8L383.5 387.0L384.9 385.6L385.0 382.4L386.0 380.1L386.7 379.3L386.8 376.5L387.8 374.6L388.2 372.3L388.3 370.4L389.4 366.6L389.9 365.2L389.6 362.3L390.8 361.3L390.6 358.7L391.6 357.6L391.8 354.9L392.2 351.6L392.6 349.8L393.7 347.3L394.0 344.8L394.6 342.5L395.5 340.8L396.1 338.5L397.1 337.2L397.8 334.8L398.5 331.0L399.3 328.6L399.5 326.3L400.6 325.9L400.9 322.6L401.5 320.4L402.3 318.3L402.3 317.1L403.3 313.2L404.2 312.5L404.3 310.2L405.4 307.5L405.5 305.2L407.2 304.0L409.0 302.7L410.0 299.6L412.3 298.6L413.6 296.4L414.1 294.6L415.1 291.1L415.5 288.2L417.1 287.2L417.0 283.8L418.2 281.8L420.2 281.6L422.3 279.8L425.0 278.9L426.7 277.5L428.7 277.2L431.2 275.6L433.5 274.8L436.2 274.7L438.1 271.1L439.6 269.8L440.2 271.6L440.9 272.8L441.7 276.1L442.6 277.1L443.3 279.2L444.8 282.3L447.6 281.1L450.0 279.5L450.4 281.7L451.7 282.5L453.0 286.0L453.6 286.7L455.0 290.2L456.0 292.6L456.7 292.7L458.1 294.5L459.9 297.6L460.6 298.6L461.9 301.8L463.5 304.9L464.4 307.3L465.7 308.5L466.3 310.4L467.8 314.1L468.3 314.6L468.6 316.8L469.5 320.1L470.0 321.9L471.5 323.0L472.0 326.7L472.9 328.2L473.9 330.6L474.0 332.3L475.3 335.3L476.0 336.8L475.9 338.2L476.9 341.3L477.2 343.6L478.7 345.2L478.8 348.0L480.1 350.0L481.2 352.4L481.9 355.1L483.4 357.3L483.9 358.4L484.6 360.5L486.3 363.6L487.3 365.6L488.6 367.3L489.1 369.5L490.2 371.2L491.2 373.6L492.6 374.5L493.8 376.2L494.5 379.7L494.4 381.9L495.5 384.4L496.3 385.6L497.3 387.0L497.9 389.2L498.1 391.4L499.4 394.2L500.3 395.8L501.3 398.6L501.8 400.3L503.4 401.7L504.4 403.8L505.2 407.0L506.8 409.2L507.4 410.3L508.8 412.7L509.5 414.9L510.5 417.0L511.6 417.3L512.9 419.4L513.7 421.3L515.0 424.3L515.7 425.6L516.5 428.1L517.1 431.1L517.8 432.4L518.8 435.2L520.6 435.7L521.1 438.6L522.7 441.2L523.7 443.6L524.9 444.0L526.9 446.0L527.6 448.8L529.1 450.2L531.1 452.9L531.5 454.6L532.3 456.7L532.8 459.7L533.5 462.2L533.8 463.9L534.6 465.9L534.4 469.0L535.7 470.7L536.5 471.9L537.1 475.2L538.5 477.5L538.6 479.1L539.9 480.7L540.3 482.3L541.5 485.1L542.2 487.0L543.4 489.9L544.2 490.9L545.3 493.5L546.2 496.9L546.1 498.4L547.7 500.2L548.1 502.3L548.4 504.3L549.3 506.6L550.6 509.4L551.7 511.9L552.0 514.5L553.2 515.8L554.4 518.2L554.8 520.1L555.7 523.0L556.5 525.1L557.3 525.3L558.7 527.8L559.6 529.7L560.8 532.9L561.6 535.6L562.8 537.2L563.2 537.9L563.3 540.9L564.9 542.8L565.2 544.3L565.8 548.2L566.6 550.1L566.8 551.0L567.6 554.4L568.3 556.7L569.5 558.7L570.8 559.7L572.3 562.0L573.1 563.4L574.3 567.3L574.6 569.0L575.8 569.9L577.0 573.0L578.6 575.8L579.3 577.2L579.7 578.4L580.5 581.3L580.8 584.1L581.4 584.7L582.0 586.8L583.2 590.2L583.4 591.7L584.6 593.9L586.0 595.8L587.2 596.7L589.2 599.0L591.1 600.9L592.7 602.8L593.1 605.5L594.5 607.5L595.9 609.6L596.9 613.0L597.8 614.6L599.3 617.1L599.7 618.3L600.9 620.9L602.1 623.7L603.8 625.1L605.2 628.4L606.3 628.9L607.7 631.2L609.7 634.0L610.5 635.0L611.5 636.9L613.7 640.0L614.2 642.4L615.3 644.5L616.7 646.1L618.3 649.7L620.0 650.3L622.1 652.5L623.9 653.6L626.1 655.1L627.3 657.6L628.5 659.1L630.3 663.0L631.2 663.6L632.8 665.6L633.8 668.6L637.0 667.6L639.8 668.3L642.0 671.0L642.4 672.0L644.0 673.3L645.5 675.8L646.9 677.3L649.4 680.4L651.3 681.1L652.6 679.2L654.0 678.5L655.2 677.1L655.9 674.7L658.0 671.6L659.9 673.4L662.5 676.6L665.0 678.1L667.7 679.7L668.3 678.1L669.2 674.0L669.5 673.2L671.0 670.9L671.0 669.2L672.3 665.5L672.7 664.4L673.0 661.0L674.8 660.7L676.8 657.6L678.2 656.5L679.6 654.2L681.2 655.9L682.8 657.3L682.4 659.5L683.0 661.4L683.3 664.0L683.9 665.7L683.9 668.6L684.5 670.7L685.0 672.5L685.2 675.0L685.8 678.1L686.8 679.8L687.3 682.7L688.5 683.6L689.3 685.7L690.7 688.6L691.5 690.4L692.2 691.9L693.9 693.6L695.5 696.5L697.5 697.3L698.6 700.5L701.1 701.8L703.2 703.5L704.9 703.8L706.3 701.5L708.2 700.3L709.1 698.9L710.5 695.2L711.3 692.8L715.0 696.3L715.3 697.7L715.8 700.1L716.9 703.1L717.7 705.2L718.0 706.5L718.5 709.8L719.1 710.3L720.1 714.0L721.7 715.1L722.6 718.4L723.1 719.2L724.4 721.8L726.2 724.1L728.9 724.3L731.4 725.2L733.2 726.7L735.7 726.7L737.8 729.0L739.8 729.6L742.2 729.5L743.7 731.2L746.4 731.3L747.9 733.8L750.5 733.9L752.1 736.0L753.7 736.3L755.7 738.9L758.0 737.9L759.7 736.6L762.0 736.2L763.6 738.8L764.9 740.6L766.6 741.9L768.2 742.9L770.9 741.5L773.9 742.7L775.9 742.4L778.6 742.5L780.7 740.9L783.0 742.6L785.7 744.2L787.5 744.4L789.9 745.0L791.5 747.5L793.8 749.1L795.8 748.3L798.3 747.6L800.5 748.0L803.2 748.9L804.6 746.8L806.1 745.3L807.6 742.7L808.4 741.5L809.5 740.3L812.0 740.0L814.8 738.6L817.7 738.8L818.3 739.9L819.9 742.6L820.0 745.2L821.4 746.6L822.2 749.8L824.1 750.5L826.6 752.0L827.9 753.2L830.1 755.7L831.8 756.8L834.7 758.4L838.1 759.2L839.6 761.0L840.9 762.0L843.4 764.9L844.7 766.5L847.6 765.9L850.5 766.8L852.6 767.6L854.1 768.9L855.7 770.6L857.2 772.5L858.8 773.7L860.3 776.2L862.3 776.8L865.3 778.5L867.6 780.1L869.9 780.2L872.1 782.4L874.6 783.3L876.8 783.7L879.8 785.5L881.9 785.4L884.2 786.6L886.9 789.8L889.1 789.8L891.5 789.4L893.9 789.8L895.5 790.3L898.3 790.0L901.1 790.2L904.0 790.4L906.6 791.5L907.0 789.5L908.2 787.0L909.9 785.1L910.6 783.5L912.3 786.3L914.6 787.8L916.2 788.5L917.6 789.8L920.1 790.1L922.3 788.1L923.8 791.4L926.3 792.7L928.8 793.7L931.8 793.8L935.0 793.3L935.5 796.3L936.6 797.9L938.2 798.8L938.9 801.3"/>
<path class="c" stroke="#0000ff" stroke-width="4.8" d="M968.0 834.6L970.0 836.0L972.7 837.9L975.3 838.7L977.5 837.4L979.5 835.0L981.7 833.0L984.2 831.7L986.9 830.8L989.6 830.5L992.2 830.9L994.9 831.9L997.5 833.0L1000.1 834.4L1002.7 835.8L1005.4 836.2L1007.7 834.9L1010.1 832.8L1012.5 830.7L1014.9 829.8L1017.3 830.7L1019.7 832.8L1022.0 834.9L1024.4 836.2L1027.6 836.0L1030.9 834.9L1033.9 833.6L1036.7 832.2L1039.3 830.6L1041.8 829.8L1044.5 830.9L1047.2 832.9L1049.7 833.6L1051.9 831.6L1053.9 828.4L1056.1 826.7L1057.9 827.7L1059.8 830.0L1061.9 832.2L1064.0 833.0L1065.7 832.0L1067.5 830.0L1069.4 827.5L1071.4 825.1L1073.5 823.5L1075.9 822.7L1078.4 822.3L1081.1 822.1L1083.7 822.1L1086.2 821.9L1089.1 821.7L1091.9 821.5L1094.6 821.3L1097.2 821.0L1100.6 820.4L1103.8 819.7L1106.7 818.7L1109.5 817.1L1112.1 815.1L1114.7 814.0L1117.4 814.6L1120.1 816.2L1122.6 817.2L1125.8 816.5L1128.9 815.6L1131.9 816.4L1135.2 816.5L1137.4 815.3L1139.9 813.4L1142.4 811.5L1144.7 810.2L1147.4 810.2L1150.0 810.9L1152.7 810.8L1154.9 809.6L1157.3 807.7L1159.7 805.6L1162.2 803.9L1164.5 802.6L1166.9 801.5L1169.3 800.4L1171.7 798.8L1173.6 797.0L1175.5 794.9L1177.4 792.7L1179.3 790.5L1181.2 788.7L1183.5 787.0L1185.9 785.7L1188.3 784.3L1190.7 782.3L1192.2 780.6L1193.8 778.6L1195.4 776.4L1197.0 774.2L1198.6 771.9L1200.2 769.7L1201.7 767.5L1203.3 765.5L1204.9 763.4L1206.5 761.2L1208.1 758.9L1209.7 756.4L1210.8 754.3L1212.0 752.1L1213.2 749.9L1214.4 747.5L1215.6 745.2L1216.8 742.8L1218.0 740.4L1219.2 738.0L1220.4 735.6L1221.6 733.1L1222.9 730.6L1224.1 728.0L1225.3 725.6L1226.5 723.2L1227.6 721.0L1228.7 719.0L1230.1 716.3L1231.4 714.1L1232.6 712.1L1233.8 710.1L1235.0 707.9L1236.2 705.5L1237.4 702.9L1238.6 700.3L1239.9 697.7L1241.3 695.2L1242.7 693.0L1244.3 690.7L1245.9 688.4L1247.5 686.2L1249.2 684.2L1250.8 682.5L1253.2 680.3L1255.5 678.4L1257.8 677.0L1260.3 676.2L1263.0 676.1L1265.9 676.7L1268.7 677.7L1271.4 678.7L1273.9 679.8L1276.4 681.1L1278.7 682.4L1280.9 683.1L1283.6 683.0L1286.1 682.2L1288.8 681.9L1291.0 682.4L1293.3 683.4L1295.7 684.4L1298.3 685.0L1300.8 685.2L1303.5 685.3L1306.2 685.2L1308.8 684.8L1311.0 684.1L1313.0 682.7L1314.5 680.9L1315.8 678.7L1317.3 676.2L1318.6 674.1L1319.9 671.9L1321.3 669.4L1322.7 666.9L1324.0 664.4L1325.2 661.9L1326.4 659.5L1327.4 657.0L1328.4 654.5L1329.4 652.1L1330.4 649.8L1331.6 647.7L1333.5 644.7L1335.5 641.8L1337.6 639.5L1339.5 638.2L1342.8 638.8L1345.8 641.3L1347.8 643.2L1349.8 645.2L1352.2 646.1L1354.3 645.4L1356.7 643.9L1359.2 642.2L1361.7 640.7L1364.0 639.6L1366.4 638.6L1368.8 637.7L1371.2 636.6L1373.4 635.3L1375.5 633.9L1377.8 632.5L1380.7 631.2L1383.0 630.3L1385.7 629.5L1388.6 628.7L1391.4 627.9L1394.1 627.0L1396.5 626.1L1399.2 624.5L1401.4 622.7L1403.5 621.0L1406.0 619.8L1408.4 619.1L1411.0 618.7L1413.7 618.5L1416.3 618.4L1418.7 618.5L1421.2 618.9L1423.5 619.6L1425.7 620.5L1428.2 621.7L1430.3 622.9L1432.6 624.5L1435.0 626.1L1437.2 627.5L1439.2 628.7L1442.0 629.2L1444.4 629.2L1447.0 630.2L1448.8 631.8L1450.7 633.8L1452.6 636.1L1454.6 638.7L1456.5 641.3L1457.9 643.4L1459.3 645.8L1460.7 648.3L1462.1 650.8L1463.5 653.2L1464.8 655.4L1466.0 657.2L1468.3 659.7L1470.2 661.1L1472.3 662.9L1474.3 665.1L1476.3 667.8L1478.4 670.4L1480.2 672.4L1483.0 674.3L1485.6 674.3L1487.9 673.3L1490.4 671.4L1492.9 668.2L1494.0 666.4L1495.1 664.2L1496.3 661.8L1497.4 659.2L1498.5 656.5L1499.7 653.7L1500.8 650.8L1501.7 648.5L1502.6 646.0L1503.6 643.3L1504.5 640.6L1505.4 637.9L1506.3 635.2L1507.2 632.8L1508.0 630.6L1508.7 628.7L1510.1 625.4L1511.2 623.2L1512.3 621.5L1513.5 619.8L1515.5 617.9L1517.7 616.5L1519.8 614.4L1521.1 612.7L1522.4 610.7L1523.6 608.5L1524.9 606.0L1526.2 603.3L1527.1 601.1L1528.0 598.6L1528.9 595.8L1529.8 593.1L1530.7 590.4L1531.6 588.0L1532.5 585.9L1533.9 582.8L1535.3 580.2L1536.7 578.3L1538.2 577.4L1540.3 578.2L1542.6 580.5L1545.2 582.7L1547.4 583.7L1549.8 584.4L1552.2 585.3L1554.7 586.9L1556.2 588.3L1557.8 590.0L1559.3 592.0L1560.9 594.1L1562.5 596.3L1564.2 598.6L1565.7 600.6L1567.3 602.8L1569.0 605.0L1570.6 607.3L1572.3 609.6L1573.8 612.0L1575.2 614.4L1576.5 616.7L1577.7 619.0L1578.8 621.3L1579.8 623.7L1580.9 626.2L1582.0 628.9L1583.2 631.8L1584.0 634.0L1585.0 636.3L1585.9 638.7L1586.8 641.2L1587.8 643.8L1588.8 646.4L1589.8 649.1L1590.7 651.8L1591.7 654.5L1592.7 657.2L1593.4 659.4L1594.2 661.6L1595.0 663.8L1595.7 666.0L1596.5 668.3L1597.2 670.5L1598.0 672.9L1598.8 675.2L1599.6 677.7L1600.4 680.2L1601.3 682.9L1602.2 685.7L1602.9 687.9L1603.6 690.2L1604.5 692.7L1605.3 695.3L1606.1 697.9L1607.0 700.6L1607.9 703.3L1608.8 706.1L1609.7 708.8L1610.5 711.4L1611.3 714.0L1612.1 716.5L1612.9 718.8L1613.6 721.0L1614.2 723.1L1614.8 724.9L1616.1 728.9L1616.9 731.9L1617.6 734.3L1618.2 736.4L1618.8 738.6L1619.6 741.2L1620.3 743.4L1621.0 745.8L1621.8 748.3L1622.6 750.8L1623.5 753.3L1624.3 755.7L1625.1 758.0L1625.9 760.2L1627.0 762.9L1628.0 765.4L1629.1 767.9L1630.1 770.2L1631.2 772.4L1632.2 774.4L1633.8 777.3L1635.3 780.0L1636.9 782.3L1638.6 783.9L1641.2 784.6L1643.9 784.3L1646.5 784.9L1648.1 786.4L1649.7 788.5L1651.2 790.9L1652.8 793.4L1654.3 795.5L1655.8 797.7L1657.4 800.1L1659.0 802.3L1660.7 804.5L1662.5 806.5L1664.3 808.5L1666.1 810.4L1668.1 812.2L1670.2 814.0L1672.6 815.7L1675.2 817.4L1677.8 819.0L1680.4 820.5L1682.9 821.9L1685.8 823.4L1688.4 824.6L1691.1 825.8L1694.0 827.3L1696.0 828.6L1698.0 830.0L1700.0 831.5L1702.1 833.0L1704.3 834.4L1706.7 835.5L1709.1 836.4L1711.8 837.1L1714.6 837.7L1717.3 838.2L1720.0 838.7L1722.5 839.3L1725.3 840.2L1727.9 841.1L1730.5 842.0L1732.9 842.8L1735.2 843.1L1738.6 842.6L1741.7 841.4L1744.7 840.9L1747.4 841.9L1750.0 843.6L1752.6 845.0L1755.4 845.7L1758.3 846.1L1760.3 846.3"/>
<path class="c" stroke="#ff00ff" stroke-width="5.0" d="M148.2 635.0L149.6 634.7L149.9 637.4L150.1 640.3L151.8 643.0L152.1 643.8L153.4 647.2L155.2 648.5L156.4 650.0L157.8 648.5L158.1 647.1L158.7 644.7L159.7 642.7L160.3 639.2L163.0 641.3L164.8 643.1L165.9 644.6L167.0 647.3L168.7 649.2L170.4 650.4L173.0 648.8L175.7 648.7L177.1 647.8L178.1 645.8L179.1 643.3L180.7 644.4L180.7 647.1L182.2 648.7L182.9 652.7L184.1 653.1L184.7 652.0L185.6 649.5L186.9 647.2L187.8 645.9L188.1 643.9L190.8 642.6L194.1 644.7L195.5 641.7L197.4 639.8L199.1 637.5L201.1 640.9L203.1 642.9L204.2 641.1L206.4 637.9L207.7 637.1L208.3 639.4L210.3 639.5L210.7 641.5L211.8 643.5L213.2 641.9L214.1 640.4L215.3 639.2L216.8 635.6L218.4 633.0L220.8 630.9L221.9 634.6L222.9 635.3L222.5 638.8L223.6 641.3L224.3 641.9L224.6 645.6L226.1 646.9L227.1 650.2L228.6 652.0L228.8 654.4L231.1 652.1L232.3 650.1L233.6 647.8L235.5 647.0L238.5 645.1L238.9 644.9L240.7 640.7L241.3 640.1L242.5 637.6L242.7 635.1L244.0 638.3L244.0 640.3L245.1 642.5L244.9 644.2L245.9 646.7L246.5 647.8L247.4 650.3L249.4 652.5L250.9 655.8L252.2 657.7L254.0 656.6L255.9 654.5L258.2 651.6L259.8 650.3L261.4 647.3L263.1 645.6L265.0 643.4L265.7 640.7L267.7 638.5L268.6 637.4L270.0 639.3L271.6 639.9L273.0 642.8L276.2 641.1L277.9 641.3L278.4 642.0L279.4 644.8L280.7 648.0L280.5 649.3L281.5 650.2L282.2 654.4L282.8 655.8L283.8 652.3L284.6 650.1L284.4 649.3L284.6 646.2L285.3 644.2L285.7 641.2L286.5 638.7L287.7 636.9L289.6 634.6L291.3 633.2L291.1 630.6L292.3 628.0L292.7 625.9L293.4 624.5L293.4 623.4L293.3 619.3L294.5 618.4L295.0 615.5L295.9 613.3L297.0 611.5L298.4 609.6L299.2 608.4L299.8 610.9L301.1 611.6L301.4 614.4L302.7 617.0L303.3 618.4L304.7 620.2L305.5 619.4L306.2 617.3L306.0 614.7L307.1 611.0L308.2 609.8L308.7 607.3L308.5 605.8L311.8 603.5L315.5 602.6L316.3 601.7L317.0 599.5L318.0 596.9L319.7 595.3L320.1 592.0L322.2 590.4L322.2 588.0L323.1 586.5L323.6 583.3L324.1 581.2L324.3 579.9L325.8 577.1L326.4 574.0L326.8 571.0L327.1 569.9L327.8 567.9L328.2 564.2L328.5 562.4L328.3 559.8L329.4 558.7L329.8 555.9L329.5 552.4L330.4 550.2L330.5 547.7L330.7 546.8L331.2 544.9L331.6 542.6L331.9 539.0L332.4 536.1L332.8 534.7L332.6 533.6L333.4 529.3L334.4 527.6L333.9 524.8L334.1 524.2L335.0 521.5L334.9 518.7L336.1 516.6L336.5 515.6L335.8 513.3L336.0 510.7L337.2 508.5L337.2 506.5L337.1 503.7L337.5 501.1L337.8 499.6L338.5 497.6L338.9 494.9L339.6 493.2L340.2 489.7L341.6 487.4L341.7 485.0L343.4 484.0L343.6 481.1L344.1 479.1L343.7 476.0L344.3 473.3L343.7 471.8L344.8 468.6L344.8 467.8L344.4 463.7L345.0 461.9L345.7 461.2L345.3 458.4L345.8 454.6L346.4 452.2L345.5 450.6L345.7 448.3L346.4 447.1L346.6 444.6L347.2 441.6L346.8 438.6L347.3 436.5L347.7 434.5L347.5 432.4L348.5 429.1L348.0 426.3L347.9 424.1L348.5 423.6L349.0 421.6L349.4 418.4L349.3 414.7L349.3 413.0L349.8 410.2L349.9 408.6L350.0 406.3L349.8 404.8L350.8 402.2L350.2 399.8L351.3 398.5L351.4 393.9L351.8 393.0L351.3 391.3L352.1 388.9L351.7 386.0L352.1 383.1L352.8 381.7L352.5 379.3L353.5 377.2L353.7 375.0L354.0 371.5L353.6 370.6L354.2 369.4L354.3 366.0L354.6 364.0L354.9 362.8L354.3 359.1L355.7 356.1L356.0 353.6L356.2 353.0L356.1 349.7L356.4 348.0L357.2 345.4L357.3 343.1L358.5 341.4L358.9 337.9L358.8 336.0L359.0 334.8L359.2 332.0L360.3 330.7L359.8 326.9L360.8 326.3L360.8 323.8L361.5 320.9L362.6 317.6L362.3 315.7L362.5 313.9L363.6 312.4L363.4 310.8L364.3 307.0L365.1 306.5L364.8 304.6L365.9 300.7L365.4 300.1L367.6 295.9L368.8 295.1L370.0 292.9L371.6 289.3L372.0 288.5L371.8 285.6L372.8 283.7L373.1 280.1L373.2 278.4L373.6 276.9L375.0 273.1L375.2 271.9L375.0 269.8L376.4 266.3L376.2 263.9L377.6 262.0L378.2 258.8L378.0 256.9L379.5 254.1L379.1 253.1L379.8 250.6L380.3 247.3L381.5 246.5L381.7 243.2L381.8 240.6L382.6 239.4L383.7 237.1L384.0 234.6L384.0 231.6L384.7 229.1L386.5 226.9L387.2 225.1L389.0 224.0L389.7 221.4L390.7 220.5L390.6 217.3L391.5 214.3L391.3 211.7L392.0 211.0L392.0 207.9L393.5 205.8L393.5 204.5L394.8 201.3L394.6 199.8L396.0 198.4L396.6 194.8L397.1 192.7L397.8 191.0L399.0 189.9L399.8 186.8L400.5 183.7L401.2 182.6L401.8 179.8L402.6 176.5L403.2 176.2L403.3 173.9L403.8 171.4L404.8 168.3L405.2 167.0L406.4 163.1L407.3 161.2L407.2 159.5L408.0 158.5L409.1 155.7L409.0 152.2L409.2 151.1L410.4 148.7L412.0 146.0L412.3 143.4L413.1 142.0L414.8 139.0L415.8 136.4L416.8 135.0L418.2 134.1L419.0 130.0L419.1 127.7L420.1 126.9L421.4 123.3L422.0 121.5L422.4 119.5L422.4 116.1L423.6 115.4L423.6 113.7L424.6 110.0L424.1 108.3L425.2 105.3L424.8 103.7L425.2 102.0L426.3 98.7L426.5 96.3L426.6 94.0L427.7 92.4L428.0 89.9L429.7 88.9L431.1 86.8L432.6 84.8L434.6 83.8L435.7 81.6L436.8 78.8L438.2 78.1L439.2 75.2L441.5 74.1L443.7 75.0L445.5 78.1L446.3 80.3L447.2 82.5L448.3 84.8L449.5 85.8L450.9 83.2L452.2 81.4L453.1 80.5L455.8 81.4L457.5 83.6L458.2 86.0L458.5 86.6L459.2 89.5L459.2 91.3L459.3 95.3L460.2 97.6L460.2 100.3L460.8 101.4L461.0 104.7L462.4 105.8L463.1 108.1L464.1 110.1L466.0 112.6L466.2 115.3L467.1 117.8L468.0 118.6L469.0 121.9L469.9 125.2L471.6 126.1L472.0 129.4L472.3 130.6L473.3 134.6L472.8 135.4L473.7 137.4L474.4 141.3L474.5 143.5L475.4 143.8L476.7 146.7L477.6 148.3L479.5 150.3L481.0 152.6L483.2 155.0L483.5 157.4L484.7 160.1L484.7 162.7L485.9 164.0L486.1 165.6L486.3 169.1L487.4 169.4L488.4 173.5L489.7 173.5L492.3 173.6L493.4 175.4L493.3 178.4L493.3 180.5L493.9 183.6L494.0 185.1L494.2 186.3L494.6 188.2L495.5 190.5L496.1 192.5L496.3 196.6L496.0 197.2L498.8 197.0L501.1 195.9L501.0 199.7L501.4 201.9L502.6 202.3L502.7 206.4L502.7 208.4L504.1 210.4L504.4 211.1L505.3 213.3L505.7 217.0L505.6 219.2L506.3 221.6L506.4 224.3L509.1 225.1L511.6 226.2L512.6 227.8L513.4 230.0L514.6 233.2L516.4 234.4L517.9 237.9L518.9 238.0L519.5 241.7L520.3 242.1L521.7 245.3L522.1 248.5L522.5 249.0L524.0 252.0L523.8 254.0L525.7 257.9L525.6 258.8L530.5 259.4L530.6 260.3L530.9 264.5L530.9 265.4L531.5 268.9L532.0 271.0L533.4 272.7L532.9 274.8L534.0 276.5L534.0 278.7L535.8 279.8L536.9 282.5L537.2 284.1L538.5 287.1L539.6 289.7L540.8 290.9L542.6 292.3L542.7 294.6L544.4 296.2L545.8 298.1L548.2 301.3L549.9 303.9L551.5 306.2L551.8 308.5L552.5 310.5L553.7 313.4L554.0 314.7L555.6 318.2L556.6 318.9L556.5 321.1L558.1 324.9L558.9 327.3L559.6 329.0L561.0 331.5L561.6 333.6L562.3 336.3L563.0 336.9L563.4 339.8L563.9 342.3L564.4 344.0L565.1 346.1L566.3 347.6L565.7 351.3L566.8 352.8L567.6 354.7L567.7 356.0L571.2 359.3L573.1 359.3L573.6 360.6L574.8 364.6L574.4 365.5L575.4 369.0L575.6 370.2L575.8 373.4L577.0 375.8L576.5 375.6L578.8 378.0L579.5 378.7L580.3 382.2L581.7 384.5L583.7 385.8L585.3 389.0L586.3 389.1L587.6 392.0L588.5 395.4L590.4 395.5L591.1 398.2L592.8 400.2L593.5 403.5L593.9 405.4L594.9 408.1L596.5 408.7L596.8 410.3L597.4 413.6L599.2 411.4L600.1 409.3L602.3 407.8L603.6 407.3L605.9 408.6L606.7 410.4L608.3 412.4L608.8 413.4L609.9 417.3L610.2 417.8L610.9 420.1L611.8 422.8L613.0 425.1L613.3 427.3L614.8 430.5L615.6 432.6L616.6 434.7L618.1 435.9L621.1 434.6L624.0 435.8L625.2 437.4L626.3 439.0L626.9 440.2L628.0 443.4L629.2 443.8L630.7 447.1L631.2 448.9L632.6 452.4L634.3 453.4L635.2 455.6L637.3 454.1L640.1 453.6L642.1 452.3L643.0 452.6L643.2 455.0L644.4 458.0L646.0 460.4L646.5 461.8L648.5 465.4L649.1 466.1L651.2 469.0L652.4 471.0L653.6 469.6L655.3 467.5L655.8 465.3L658.0 465.1L659.4 466.5L660.6 467.7L661.9 471.5L664.0 469.8L666.5 467.9L668.7 468.8L669.2 464.9L670.5 464.1L671.1 460.9L672.4 458.6L672.3 456.9L673.5 455.4L674.4 453.9L675.6 451.3L675.2 450.0L675.9 446.6L676.7 445.1L678.1 441.8L678.2 441.3L679.4 437.4L680.1 436.8L680.4 437.5L681.3 440.1L681.3 442.0L682.2 444.1L682.5 447.5L683.0 449.5L683.6 451.1L683.3 455.5L684.2 457.9L684.3 459.3L684.6 461.8L684.1 463.4L684.6 467.1L685.3 468.2L686.0 469.7L686.7 473.6L687.3 476.0L687.2 476.4L688.2 480.0L688.2 481.4L688.4 484.7L689.3 486.9L691.2 486.8L693.6 488.9L696.1 489.0L697.5 491.3L699.3 494.4L700.5 495.6L701.7 499.1L704.5 495.8L705.7 493.7L708.9 491.4L711.5 491.3L714.1 490.1L715.0 492.5L715.7 495.8L716.8 496.3L718.5 499.9L719.8 502.5L720.6 503.0L720.2 505.6L721.8 507.5L722.2 511.1L722.4 512.6L724.0 515.3L724.1 516.7L724.7 520.0L726.1 521.4L726.2 523.7L727.2 525.9L727.8 528.2L730.3 526.4L732.3 526.4L734.3 525.9L735.6 527.9L738.4 529.0L740.4 530.3L742.4 532.0L745.7 531.5L748.5 532.4L749.7 531.7L752.2 533.4L754.8 533.2L757.3 533.3L759.5 536.9L760.6 537.7L761.9 539.9L763.6 542.5L765.9 543.7L768.1 543.1L769.6 544.7L772.0 545.8L775.4 547.8L777.8 546.0L779.2 545.2L781.7 544.9L784.4 545.2L785.7 548.2L786.8 550.0L788.2 553.3L789.3 555.1L791.4 552.6L793.3 551.0L795.9 551.6L798.1 554.5L799.9 555.6L801.4 555.4L803.1 558.0L806.3 557.5L807.5 559.1L810.3 560.7L812.4 562.4L814.7 564.3L816.8 564.6L818.8 568.0L820.8 569.7L821.8 571.0L824.2 574.0L826.0 573.9L827.2 577.2L829.3 578.2L830.9 577.1L833.6 578.8L835.1 580.2L837.5 580.0L840.3 578.3L841.0 579.7L842.3 580.3L845.0 581.5L845.9 583.9L847.3 586.0L849.4 586.3L851.3 588.0L852.5 586.7L853.2 584.1L855.7 583.9L856.5 581.9L858.4 584.2L859.3 584.6L860.6 588.3L862.2 589.5L863.5 590.8L864.4 593.9L865.1 595.9L866.1 597.1L869.9 596.1L873.5 596.8L873.7 594.6L875.2 592.4L875.6 589.4L877.5 587.2L878.0 586.6L879.8 584.6L881.0 584.0L883.8 586.9L885.5 587.0L887.2 589.7L888.9 593.7L890.1 593.8L892.2 596.1L893.2 594.6L895.7 592.1L896.5 590.3L897.9 587.9L900.5 588.7L902.6 589.4L903.8 591.5L906.2 593.2L907.7 591.0L910.4 588.3L911.7 587.0L914.5 584.9L915.5 587.6L917.1 589.2L918.1 591.5L919.9 594.8L921.4 591.6L921.5 588.4L922.9 587.3L923.4 584.8L925.8 586.3L927.3 588.6L928.6 591.9L929.6 592.8L932.2 589.9L932.9 588.7L935.0 586.9L936.8 584.7L938.9 585.9"/>
<path class="c" stroke="#ff00ff" stroke-width="5.0" d="M968.0 619.2L969.0 620.9L970.5 623.4L972.2 625.5L975.3 627.5L978.5 628.0L981.0 625.9L983.2 622.3L984.3 619.9L985.4 617.0L986.4 614.4L987.4 612.8L991.2 616.0L992.6 618.9L994.2 622.3L995.9 623.9L997.4 622.9L999.0 620.5L1000.6 617.9L1002.2 616.0L1005.4 614.5L1008.6 614.4L1011.7 615.6L1014.9 617.6L1017.0 619.1L1019.1 620.8L1021.2 622.3L1024.4 624.9L1027.6 626.1L1029.7 624.7L1031.7 622.2L1033.9 620.7L1036.3 621.6L1038.8 623.4L1041.2 624.2L1043.6 622.8L1046.0 620.3L1048.2 618.5L1052.9 619.2L1055.3 618.1L1058.0 616.6L1060.8 615.4L1063.9 614.4L1067.2 613.6L1070.3 613.5L1073.0 614.8L1075.4 616.8L1078.2 617.6L1080.3 616.8L1082.6 615.3L1085.0 613.5L1087.3 612.0L1089.3 611.2L1092.0 612.3L1094.3 614.6L1097.2 616.0L1099.7 615.8L1102.4 615.1L1105.4 614.2L1108.4 613.4L1111.5 612.8L1114.1 612.7L1116.8 612.7L1119.5 612.8L1122.2 612.9L1124.9 612.9L1127.3 612.8L1130.1 612.5L1132.8 612.1L1135.3 611.5L1137.7 610.9L1140.0 610.3L1142.7 609.3L1145.1 608.1L1147.4 607.1L1149.5 606.5L1152.6 607.4L1155.8 608.1L1158.3 607.3L1161.3 605.9L1164.3 604.3L1166.9 602.7L1169.1 600.9L1171.0 599.0L1172.8 597.1L1174.8 595.4L1177.1 594.3L1179.4 593.6L1181.8 592.6L1184.3 590.7L1185.9 588.9L1187.5 586.6L1189.1 584.0L1190.8 581.3L1192.4 578.7L1194.0 576.5L1195.4 574.8L1198.3 573.0L1200.9 572.6L1203.3 571.7L1205.0 570.0L1206.5 568.0L1208.0 565.8L1209.7 563.7L1211.5 561.9L1213.5 560.1L1215.6 558.1L1217.6 555.8L1219.2 553.6L1220.7 551.0L1222.3 548.3L1223.9 545.7L1225.5 543.2L1227.1 540.9L1228.7 538.8L1230.2 536.7L1231.8 534.5L1233.4 532.1L1234.7 529.8L1236.0 527.4L1237.4 524.9L1238.7 522.3L1240.0 520.0L1241.3 517.8L1243.3 515.0L1245.3 512.6L1247.3 510.4L1249.2 508.3L1251.2 506.4L1253.1 504.8L1255.1 503.3L1257.2 502.0L1259.5 500.9L1262.0 500.0L1264.5 499.3L1266.7 498.8L1269.9 498.8L1273.0 499.5L1275.6 500.6L1278.3 501.9L1280.9 502.0L1282.6 500.9L1284.2 499.0L1285.7 496.6L1287.2 494.1L1288.5 491.8L1289.8 489.1L1291.2 486.3L1292.4 483.7L1293.6 481.4L1295.3 478.2L1296.8 475.5L1298.3 474.1L1300.7 475.1L1303.1 478.2L1304.3 480.4L1305.4 483.0L1306.6 485.6L1307.8 487.7L1310.1 491.0L1312.6 492.5L1314.6 491.6L1316.7 489.7L1318.9 487.7L1321.0 486.6L1323.1 485.4L1325.2 483.0L1326.3 480.9L1327.3 478.2L1328.4 475.2L1329.5 472.1L1330.5 469.4L1331.6 467.2L1333.8 464.7L1336.0 463.3L1337.9 460.8L1338.6 458.9L1339.2 456.8L1339.7 454.5L1340.1 451.8L1340.6 448.7L1341.1 445.0L1341.3 442.9L1341.6 440.6L1341.9 438.2L1342.1 435.6L1342.4 432.9L1342.7 430.2L1342.9 427.3L1343.2 424.5L1343.4 421.6L1343.7 418.8L1344.0 416.0L1344.2 413.3L1344.5 410.7L1344.8 408.1L1345.0 405.4L1345.3 402.8L1345.6 400.1L1345.8 397.5L1346.1 394.9L1346.3 392.2L1346.6 389.6L1346.9 386.9L1347.1 384.3L1347.4 381.7L1347.7 379.0L1348.0 376.1L1348.3 373.2L1348.6 370.2L1348.8 367.3L1349.1 364.4L1349.4 361.5L1349.7 358.8L1350.0 356.3L1350.2 353.9L1350.4 351.8L1350.6 350.0L1350.9 346.3L1350.9 345.3L1351.2 342.0L1351.4 340.1L1351.6 337.9L1351.9 335.4L1352.2 332.7L1352.5 329.9L1352.8 327.0L1353.1 324.0L1353.4 321.1L1353.7 318.4L1354.1 315.8L1354.4 313.5L1354.9 310.2L1355.5 307.0L1356.0 304.1L1356.6 301.3L1357.2 298.8L1357.9 296.5L1358.5 294.5L1360.2 290.8L1362.0 288.5L1363.9 287.5L1365.9 288.1L1368.1 290.0L1370.2 292.9L1371.3 294.9L1372.4 297.3L1373.5 299.9L1374.5 302.6L1375.6 305.1L1376.6 307.2L1378.4 310.5L1380.2 313.0L1382.0 314.1L1383.8 313.5L1385.7 311.5L1387.7 308.7L1388.9 306.6L1390.2 304.1L1391.4 301.4L1392.7 298.6L1394.0 296.1L1395.3 293.7L1396.6 291.4L1397.8 289.1L1399.0 287.0L1400.0 285.0L1400.8 282.1L1401.3 279.5L1402.7 277.1L1404.3 275.4L1406.3 273.6L1408.6 272.0L1410.9 270.7L1413.1 270.1L1415.8 270.5L1418.4 271.8L1421.0 273.6L1423.2 275.5L1425.1 277.4L1426.7 279.6L1428.1 282.1L1429.6 285.0L1430.6 287.3L1431.6 289.9L1432.6 292.7L1433.7 295.5L1434.8 298.3L1435.9 300.8L1437.4 303.5L1439.0 306.0L1440.6 308.3L1442.2 310.8L1443.8 313.5L1445.0 315.6L1446.1 317.7L1447.3 319.9L1448.5 322.1L1449.6 324.5L1450.7 326.9L1451.7 329.3L1452.6 331.5L1453.4 333.7L1454.2 335.9L1454.9 338.1L1455.7 340.5L1456.4 343.0L1457.2 345.6L1458.1 348.3L1458.7 350.5L1459.4 352.7L1460.2 355.1L1460.9 357.6L1461.7 360.1L1462.4 362.7L1463.2 365.2L1463.9 367.8L1464.6 370.2L1465.3 372.6L1466.0 374.9L1466.8 377.6L1467.5 380.3L1468.2 382.9L1468.9 385.4L1469.6 387.9L1470.3 390.4L1471.0 392.8L1471.6 395.2L1472.3 397.5L1473.1 400.2L1473.9 402.9L1474.7 405.6L1475.5 408.2L1476.3 410.7L1477.1 412.9L1477.9 414.9L1478.7 416.5L1481.7 419.5L1485.0 419.7L1487.6 419.5L1490.3 418.7L1492.9 416.5L1494.1 414.6L1495.1 412.0L1496.2 409.2L1497.2 406.2L1498.2 403.3L1499.2 400.7L1500.5 397.8L1501.8 395.1L1503.0 392.5L1504.3 390.1L1505.6 388.0L1507.7 385.7L1509.8 384.1L1511.9 381.7L1513.0 379.8L1514.1 377.6L1515.2 375.2L1516.3 372.7L1517.3 370.1L1518.2 367.4L1519.0 365.0L1519.6 362.4L1520.3 359.7L1520.8 357.0L1521.4 354.4L1521.9 352.0L1522.4 350.0L1523.2 347.3L1523.8 345.6L1524.6 342.0L1524.9 340.2L1525.2 338.1L1525.5 335.9L1525.8 333.4L1526.1 330.8L1526.4 328.1L1526.8 325.3L1527.1 322.4L1527.4 319.5L1527.7 316.7L1528.0 314.2L1528.3 311.7L1528.5 309.0L1528.8 306.3L1529.0 303.6L1529.3 300.8L1529.5 298.1L1529.8 295.3L1530.1 292.6L1530.3 290.0L1530.6 287.4L1530.9 285.0L1531.3 282.1L1531.7 279.3L1532.1 276.5L1532.5 273.8L1532.9 271.1L1533.3 268.6L1533.7 266.1L1534.2 263.8L1534.6 261.6L1535.0 259.7L1535.9 256.2L1536.7 253.3L1537.6 250.8L1538.5 248.8L1539.5 247.0L1541.9 244.1L1544.5 243.2L1547.2 244.2L1549.9 247.0L1551.2 249.0L1552.6 251.5L1553.9 254.5L1555.3 258.1L1556.0 260.2L1556.7 262.5L1557.4 265.0L1558.1 267.7L1558.8 270.4L1559.5 273.2L1560.2 275.9L1561.0 278.7L1561.7 281.1L1562.3 283.5L1563.0 285.9L1563.7 288.4L1564.4 290.9L1565.1 293.4L1565.8 295.9L1566.6 298.4L1567.3 300.8L1568.1 303.3L1569.0 305.6L1569.8 308.0L1570.7 310.3L1571.6 312.7L1572.5 315.1L1573.5 317.6L1574.4 320.2L1575.2 323.0L1576.0 325.4L1576.7 327.9L1577.4 330.4L1578.2 333.1L1578.9 335.8L1579.7 338.5L1580.4 341.2L1581.1 343.9L1581.8 346.5L1582.5 349.1L1583.2 351.5L1583.9 354.3L1584.7 357.0L1585.4 359.6L1586.1 362.1L1586.8 364.6L1587.4 367.1L1588.1 369.7L1588.8 372.2L1589.5 374.9L1590.1 377.4L1590.7 379.9L1591.3 382.4L1591.9 384.9L1592.6 387.5L1593.2 390.1L1593.8 392.7L1594.5 395.3L1595.1 398.0L1595.8 400.7L1596.5 403.2L1597.1 405.7L1597.8 408.3L1598.5 411.0L1599.2 413.6L1599.9 416.3L1600.7 418.9L1601.4 421.5L1602.2 424.1L1603.0 426.7L1603.7 429.2L1604.6 431.8L1605.6 434.4L1606.5 436.9L1607.5 439.4L1608.5 441.8L1609.5 444.3L1610.5 446.8L1611.4 449.3L1612.3 451.8L1613.2 454.5L1614.0 457.0L1614.8 459.5L1615.5 462.1L1616.2 464.8L1616.9 467.4L1617.6 470.1L1618.3 472.7L1619.0 475.4L1619.7 478.0L1620.4 480.5L1621.2 483.0L1621.9 485.7L1622.7 488.4L1623.5 491.0L1624.3 493.7L1625.1 496.3L1625.9 498.8L1626.7 501.3L1627.5 503.7L1628.3 506.1L1629.1 508.3L1630.1 511.0L1631.0 513.5L1632.0 515.9L1632.9 518.2L1633.9 520.5L1634.9 522.7L1635.9 525.0L1637.0 527.3L1638.1 529.7L1639.3 532.2L1640.4 534.7L1641.6 537.2L1642.9 539.7L1644.1 542.0L1645.3 544.3L1646.5 546.3L1648.1 548.7L1649.6 550.8L1651.1 552.8L1652.7 554.7L1654.3 556.7L1656.0 559.0L1657.3 561.0L1658.7 563.2L1660.2 565.6L1661.6 568.0L1663.1 570.4L1664.5 572.6L1665.8 574.7L1667.1 576.4L1669.3 578.9L1671.2 580.7L1673.1 582.2L1675.0 584.3L1676.5 586.9L1678.1 590.0L1679.6 593.1L1681.2 595.6L1682.9 597.0L1685.2 596.5L1687.7 594.5L1690.1 592.1L1692.4 590.7L1695.1 590.7L1697.6 591.8L1700.3 593.2L1702.6 594.6L1705.0 596.4L1707.5 597.9L1709.8 598.6L1712.1 597.7L1714.2 595.7L1716.4 593.8L1718.7 593.2L1720.6 594.1L1722.5 596.0L1724.5 598.2L1726.6 600.3L1728.8 601.7L1731.2 602.4L1733.9 602.5L1736.5 602.5L1739.1 602.4L1741.5 602.7L1744.1 603.5L1746.4 604.5L1748.7 605.6L1751.0 606.5L1754.5 607.5L1757.9 608.4L1760.3 609.0"/>
<path d="M925.5 62L953.8 17.5M953.5 62L981.8 17.5M926 1271.7L954 1227.3M953.8 1271.7L981.8 1227.3" fill="none" stroke="#000" stroke-width="2.6" stroke-linecap="round"/>
<rect x="855.6" y="88.7" width="300.9" height="293" fill="#fff" stroke="#484848" stroke-width="2.6"/>
<path d="M880 137H1000.3" stroke="#0000ff" stroke-width="5.6" stroke-linecap="round" fill="none"/>
<text class="sa sw" x="1010.2" y="153.2" font-size="43.5" textLength="121.5" lengthAdjust="spacingAndGlyphs">T4CSZ</text>
<path d="M880 202.3H1000.3" stroke="#ff00ff" stroke-width="5.6" stroke-linecap="round" fill="none"/>
<text class="sa sw" x="1010.2" y="218.5" font-size="43.5" textLength="121.5" lengthAdjust="spacingAndGlyphs">4TCSZ</text>
<path d="M880 268.5H1000.3" stroke="#008000" stroke-width="5.6" stroke-linecap="round" fill="none"/>
<text class="sa sw" x="1010.2" y="284.7" font-size="43.5" textLength="96" lengthAdjust="spacingAndGlyphs">6CSZ</text>
<path d="M880 333.4H1000.3" stroke="#ff0000" stroke-width="5.6" stroke-linecap="round" fill="none"/>
<text class="sa sw" x="1010.2" y="349.6" font-size="43.5" textLength="96" lengthAdjust="spacingAndGlyphs">4CSZ</text>
<text class="sa sw" x="178.8" y="114.8" font-size="42.5" textLength="53.5" lengthAdjust="spacingAndGlyphs">(a)</text>
<text class="sa sw" transform="translate(88.3 322.3) rotate(-90)" font-size="52"><tspan textLength="89" lengthAdjust="spacingAndGlyphs">ATR</tspan> <tspan dx="2.35" textLength="91.6" lengthAdjust="spacingAndGlyphs">unit</tspan></text>
<text class="se" x="147" y="1331.8" font-size="58.5" text-anchor="middle">4000</text>
<text class="se" x="344.5" y="1331.8" font-size="58.5" text-anchor="middle">3600</text>
<text class="se" x="543" y="1331.8" font-size="58.5" text-anchor="middle">3200</text>
<text class="se" x="741" y="1331.8" font-size="58.5" text-anchor="middle">2800</text>
<text class="se" x="1081.5" y="1331.8" font-size="58.5" text-anchor="middle">1800</text>
<text class="se" x="1421" y="1331.8" font-size="58.5" text-anchor="middle">1500</text>
<text class="se" x="1761" y="1331.8" font-size="58.5" text-anchor="middle">1200</text>
<text class="sa" x="742.6" y="1382.6" font-size="50"><tspan textLength="287.5" lengthAdjust="spacing">wavenumber</tspan> <tspan x="1051.7" letter-spacing="0.9">(cm</tspan><tspan font-size="33.5" dy="-16" x="1135.4">−1</tspan><tspan dy="16" x="1175.3">)</tspan></text>
<text class="sa" x="1251.8" y="496" font-size="50" text-anchor="middle">*</text>
<text class="sa" x="1278.2" y="530" font-size="50" text-anchor="middle">*</text>
<text class="sa" x="1261.5" y="679.7" font-size="50" text-anchor="middle">*</text>
<text class="sa" x="1260.8" y="863" font-size="50" text-anchor="middle">*</text>
<text class="sa" x="1264.5" y="1070" font-size="50" text-anchor="middle">*</text>
</g>
<text class="sa" x="1293.2" y="1430.5" font-size="15.5" font-weight="bold" textLength="10.5" lengthAdjust="spacingAndGlyphs">1</text>
<g id="chart-b">
<path d="M154.7 1474.4V2585.7M1799.8 1472.1000000000001V2585.7M129.2 1474.4H1799.8M154.7 2562.7H1799.8M139.2 1609.0H154.7M129.2 1742.6H154.7M139.2 1877.6H154.7M129.2 2013.0H154.7M139.2 2146.2H154.7M129.2 2281.2H154.7M139.2 2414.8H154.7M129.2 2550.0H154.7M318.1 2562.7v13.3M481.6 2562.7v23M647.5 2562.7v13.3M811.2 2562.7v23M976.9 2562.7v13.3M1140.6 2562.7v23M1306.6 2562.7v13.3M1470.1 2562.7v23M1633.5 2562.7v13.3" fill="none" stroke="#000" stroke-width="4.6" shape-rendering="crispEdges"/>
<path shape-rendering="crispEdges" fill="#ff0000" d="M152.3 1597.5h2.53V1622.8h-2.53zM154.8 1597.5h2.53V1620.3h-2.53zM157.4 1592.5h2.53V1620.3h-2.53zM159.9 1587.4h2.53V1620.3h-2.53zM162.4 1589.9h2.53V1622.8h-2.53zM165.0 1587.4h2.53V1625.4h-2.53zM167.5 1589.9h2.53V1630.4h-2.53zM170.0 1595.0h2.53V1630.4h-2.53zM172.5 1595.0h2.53V1630.4h-2.53zM175.1 1592.5h2.53V1620.3h-2.53zM177.6 1592.5h2.53V1612.7h-2.53zM180.1 1597.5h2.53V1615.2h-2.53zM182.7 1600.1h2.53V1620.3h-2.53zM185.2 1600.1h2.53V1625.4h-2.53zM187.7 1600.1h2.53V1630.4h-2.53zM190.3 1600.1h2.53V1632.9h-2.53zM192.8 1600.1h2.53V1632.9h-2.53zM195.3 1597.5h2.53V1625.4h-2.53zM197.8 1600.1h2.53V1625.4h-2.53zM200.4 1600.1h2.53V1625.4h-2.53zM202.9 1597.5h2.53V1625.4h-2.53zM205.4 1597.5h2.53V1625.4h-2.53zM208.0 1600.1h2.53V1627.9h-2.53zM210.5 1600.1h2.53V1627.9h-2.53zM213.0 1602.6h2.53V1627.9h-2.53zM215.6 1600.1h2.53V1622.8h-2.53zM218.1 1605.1h2.53V1622.8h-2.53zM220.6 1605.1h2.53V1620.3h-2.53zM223.1 1600.1h2.53V1620.3h-2.53zM225.7 1605.1h2.53V1617.8h-2.53zM228.2 1600.1h2.53V1620.3h-2.53zM230.7 1602.6h2.53V1625.4h-2.53zM233.3 1597.5h2.53V1620.3h-2.53zM235.8 1597.5h2.53V1617.8h-2.53zM238.3 1600.1h2.53V1615.2h-2.53zM240.9 1597.5h2.53V1612.7h-2.53zM243.4 1597.5h2.53V1617.8h-2.53zM245.9 1595.0h2.53V1625.4h-2.53zM248.4 1597.5h2.53V1630.4h-2.53zM251.0 1597.5h2.53V1635.5h-2.53zM253.5 1602.6h2.53V1640.5h-2.53zM256.0 1602.6h2.53V1638.0h-2.53zM258.6 1605.1h2.53V1632.9h-2.53zM261.1 1610.2h2.53V1630.4h-2.53zM263.6 1607.6h2.53V1630.4h-2.53zM266.1 1605.1h2.53V1625.4h-2.53zM268.7 1607.6h2.53V1625.4h-2.53zM271.2 1602.6h2.53V1620.3h-2.53zM273.7 1602.6h2.53V1625.4h-2.53zM276.3 1605.1h2.53V1627.9h-2.53zM278.8 1607.6h2.53V1627.9h-2.53zM281.3 1612.7h2.53V1630.4h-2.53zM283.9 1610.2h2.53V1632.9h-2.53zM286.4 1610.2h2.53V1632.9h-2.53zM288.9 1612.7h2.53V1635.5h-2.53zM291.4 1607.6h2.53V1627.9h-2.53zM294.0 1607.6h2.53V1627.9h-2.53zM296.5 1602.6h2.53V1625.4h-2.53zM299.0 1607.6h2.53V1625.4h-2.53zM301.6 1607.6h2.53V1627.9h-2.53zM304.1 1605.1h2.53V1632.9h-2.53zM306.6 1600.1h2.53V1627.9h-2.53zM309.2 1592.5h2.53V1625.4h-2.53zM311.7 1592.5h2.53V1620.3h-2.53z"/><path shape-rendering="crispEdges" fill="none" stroke="#ff0000" stroke-width="7.6" stroke-linejoin="miter" stroke-linecap="butt" d="M310.0 1607.6H316.0V1643.1H318.6V1650.7H321.1V1648.1H328.7V1650.7H331.2V1663.3H333.8V1670.9H336.3V1678.5H338.8V1683.5H341.3V1686.1H343.9V1688.6H346.4V1691.1H348.9V1698.7H351.5V1708.8H354.0V1719.0H356.5V1726.6H359.1V1736.7H361.6V1751.9H364.1V1767.0H366.6V1784.7H369.2V1799.9H371.7V1817.6H374.2V1840.4H376.8V1860.6H379.3V1891.0H381.8V1921.4H384.4V1951.7H386.9V1982.1H389.4V2012.4H391.9V2042.8H394.5V2073.2H397.0V2103.5H399.5V2136.4H402.1V2171.8H404.6V2204.7H407.1V2237.6H409.7V2268.0H412.2V2298.3H414.7V2321.1H417.2V2343.9H419.8V2369.2H422.3V2389.4H424.8V2404.6H427.4V2417.2H429.9V2432.4H432.4V2447.6H435.0V2460.2H437.5V2470.4H440.0V2480.5H442.5V2488.1H445.1V2495.7H447.6V2503.3H450.1V2508.3H452.7V2510.9H455.2V2515.9H457.7V2518.4H460.3V2521.0H462.8V2523.5H465.3V2526.0H467.8V2528.6H470.4V2531.1H472.9V2533.6H478.0V2536.2H485.6V2538.7H490.6V2541.2H492.7"/>
<path shape-rendering="crispEdges" fill="#0000ff" d="M152.3 1559.6h2.53V1584.9h-2.53zM154.8 1559.6h2.53V1582.3h-2.53zM157.4 1564.6h2.53V1587.4h-2.53zM159.9 1567.2h2.53V1584.9h-2.53zM162.4 1567.2h2.53V1587.4h-2.53zM165.0 1559.6h2.53V1589.9h-2.53zM167.5 1559.6h2.53V1589.9h-2.53zM170.0 1559.6h2.53V1592.5h-2.53zM172.5 1562.1h2.53V1589.9h-2.53zM175.1 1562.1h2.53V1592.5h-2.53zM177.6 1567.2h2.53V1589.9h-2.53zM180.1 1564.6h2.53V1587.4h-2.53zM182.7 1559.6h2.53V1582.3h-2.53zM185.2 1557.0h2.53V1587.4h-2.53zM187.7 1562.1h2.53V1589.9h-2.53zM190.3 1557.0h2.53V1592.5h-2.53zM192.8 1559.6h2.53V1595.0h-2.53zM195.3 1559.6h2.53V1597.5h-2.53zM197.8 1559.6h2.53V1592.5h-2.53zM200.4 1562.1h2.53V1592.5h-2.53zM202.9 1562.1h2.53V1589.9h-2.53zM205.4 1562.1h2.53V1587.4h-2.53zM208.0 1557.0h2.53V1584.9h-2.53zM210.5 1559.6h2.53V1584.9h-2.53zM213.0 1559.6h2.53V1582.3h-2.53zM215.6 1564.6h2.53V1579.8h-2.53zM218.1 1564.6h2.53V1579.8h-2.53zM220.6 1564.6h2.53V1587.4h-2.53zM223.1 1564.6h2.53V1595.0h-2.53zM225.7 1567.2h2.53V1600.1h-2.53zM228.2 1559.6h2.53V1595.0h-2.53zM230.7 1552.0h2.53V1592.5h-2.53zM233.3 1549.5h2.53V1592.5h-2.53zM235.8 1549.5h2.53V1592.5h-2.53zM238.3 1552.0h2.53V1589.9h-2.53zM240.9 1557.0h2.53V1587.4h-2.53zM243.4 1559.6h2.53V1584.9h-2.53zM245.9 1562.1h2.53V1584.9h-2.53zM248.4 1562.1h2.53V1577.3h-2.53zM251.0 1559.6h2.53V1579.8h-2.53zM253.5 1557.0h2.53V1574.8h-2.53zM256.0 1559.6h2.53V1577.3h-2.53zM258.6 1559.6h2.53V1577.3h-2.53zM261.1 1559.6h2.53V1577.3h-2.53zM263.6 1559.6h2.53V1577.3h-2.53zM266.1 1564.6h2.53V1584.9h-2.53zM268.7 1569.7h2.53V1589.9h-2.53zM271.2 1572.2h2.53V1597.5h-2.53zM273.7 1572.2h2.53V1600.1h-2.53zM276.3 1577.3h2.53V1600.1h-2.53zM278.8 1579.8h2.53V1597.5h-2.53zM281.3 1577.3h2.53V1592.5h-2.53zM283.9 1572.2h2.53V1592.5h-2.53zM286.4 1567.2h2.53V1592.5h-2.53zM288.9 1564.6h2.53V1592.5h-2.53zM291.4 1562.1h2.53V1592.5h-2.53zM294.0 1569.7h2.53V1589.9h-2.53zM296.5 1567.2h2.53V1584.9h-2.53zM299.0 1569.7h2.53V1579.8h-2.53zM301.6 1564.6h2.53V1579.8h-2.53zM304.1 1562.1h2.53V1577.3h-2.53zM306.6 1562.1h2.53V1577.3h-2.53zM309.2 1567.2h2.53V1582.3h-2.53zM311.7 1572.2h2.53V1584.9h-2.53zM314.2 1569.7h2.53V1584.9h-2.53z"/><path shape-rendering="crispEdges" fill="none" stroke="#0000ff" stroke-width="7.6" stroke-linejoin="miter" stroke-linecap="butt" d="M312.0 1572.2H318.0V1597.5H320.6V1610.2H323.1V1615.2H325.6V1617.8H328.2V1620.3H333.2V1625.4H335.8V1630.4H338.3V1635.5H340.8V1640.5H343.3V1643.1H345.9V1645.6H348.4V1655.7H350.9V1665.8H353.5V1676.0H356.0V1683.5H358.5V1691.1H361.1V1701.3H363.6V1716.4H366.1V1731.6H368.6V1751.9H371.2V1769.6H373.7V1789.8H376.2V1807.5H378.8V1827.8H381.3V1853.1H383.8V1880.9H386.4V1908.7H388.9V1936.5H391.4V1966.9H393.9V1997.3H396.5V2032.7H399.0V2065.6H401.5V2101.0H404.1V2133.9H406.6V2169.3H409.1V2202.2H411.7V2235.1H414.2V2270.5H416.7V2303.4H419.2V2328.7H421.8V2354.0H424.3V2374.2H426.8V2391.9H429.4V2409.7H431.9V2424.8H434.4V2440.0H437.0V2452.7H439.5V2462.8H442.0V2472.9H444.5V2483.0H447.1V2490.6H449.6V2498.2H452.1V2503.3H454.7V2505.8H457.2V2510.9H459.7V2513.4H462.3V2518.4H464.8V2521.0H469.8V2523.5H472.4V2526.0H474.9V2528.6H477.4V2531.1H482.5V2533.6H490.1V2536.2H495.1V2538.7H505.3V2541.2H517.9V2543.7H543.2V2546.3H553.0"/>
<path shape-rendering="crispEdges" fill="#ff00ff" d="M152.3 1726.6h2.53V1744.3h-2.53zM154.8 1724.0h2.53V1744.3h-2.53zM157.4 1724.0h2.53V1744.3h-2.53zM159.9 1724.0h2.53V1741.7h-2.53zM162.4 1721.5h2.53V1741.7h-2.53zM165.0 1719.0h2.53V1744.3h-2.53zM167.5 1724.0h2.53V1744.3h-2.53zM170.0 1721.5h2.53V1746.8h-2.53zM172.5 1724.0h2.53V1746.8h-2.53zM175.1 1724.0h2.53V1746.8h-2.53zM177.6 1721.5h2.53V1746.8h-2.53zM180.1 1726.6h2.53V1741.7h-2.53zM182.7 1724.0h2.53V1741.7h-2.53zM185.2 1713.9h2.53V1739.2h-2.53zM187.7 1713.9h2.53V1741.7h-2.53zM190.3 1716.4h2.53V1739.2h-2.53zM192.8 1726.6h2.53V1741.7h-2.53zM195.3 1731.6h2.53V1739.2h-2.53zM197.8 1729.1h2.53V1739.2h-2.53zM200.4 1729.1h2.53V1741.7h-2.53zM202.9 1726.6h2.53V1739.2h-2.53zM205.4 1724.0h2.53V1741.7h-2.53zM208.0 1726.6h2.53V1744.3h-2.53zM210.5 1721.5h2.53V1746.8h-2.53zM213.0 1719.0h2.53V1749.3h-2.53zM215.6 1721.5h2.53V1744.3h-2.53zM218.1 1716.4h2.53V1744.3h-2.53zM220.6 1716.4h2.53V1741.7h-2.53zM223.1 1713.9h2.53V1736.7h-2.53zM225.7 1716.4h2.53V1736.7h-2.53zM228.2 1716.4h2.53V1736.7h-2.53zM230.7 1716.4h2.53V1746.8h-2.53zM233.3 1719.0h2.53V1749.3h-2.53zM235.8 1721.5h2.53V1754.4h-2.53zM238.3 1721.5h2.53V1749.3h-2.53zM240.9 1721.5h2.53V1741.7h-2.53zM243.4 1724.0h2.53V1739.2h-2.53zM245.9 1721.5h2.53V1741.7h-2.53zM248.4 1724.0h2.53V1744.3h-2.53zM251.0 1724.0h2.53V1739.2h-2.53zM253.5 1721.5h2.53V1736.7h-2.53zM256.0 1716.4h2.53V1734.1h-2.53zM258.6 1716.4h2.53V1736.7h-2.53zM261.1 1711.4h2.53V1736.7h-2.53zM263.6 1711.4h2.53V1734.1h-2.53zM266.1 1711.4h2.53V1731.6h-2.53zM268.7 1708.8h2.53V1731.6h-2.53zM271.2 1711.4h2.53V1729.1h-2.53zM273.7 1716.4h2.53V1731.6h-2.53zM276.3 1716.4h2.53V1734.1h-2.53zM278.8 1719.0h2.53V1734.1h-2.53zM281.3 1719.0h2.53V1739.2h-2.53zM283.9 1716.4h2.53V1746.8h-2.53zM286.4 1719.0h2.53V1749.3h-2.53zM288.9 1713.9h2.53V1749.3h-2.53zM291.4 1716.4h2.53V1751.9h-2.53zM294.0 1726.6h2.53V1756.9h-2.53zM296.5 1729.1h2.53V1756.9h-2.53zM299.0 1724.0h2.53V1751.9h-2.53zM301.6 1724.0h2.53V1744.3h-2.53zM304.1 1721.5h2.53V1741.7h-2.53zM306.6 1719.0h2.53V1744.3h-2.53zM309.2 1724.0h2.53V1746.8h-2.53zM311.7 1721.5h2.53V1754.4h-2.53zM314.2 1721.5h2.53V1759.4h-2.53z"/><path shape-rendering="crispEdges" fill="none" stroke="#ff00ff" stroke-width="7.6" stroke-linejoin="miter" stroke-linecap="butt" d="M314.0 1731.6H320.0V1769.6H322.6V1772.1H327.6V1774.6H332.7V1777.2H335.2V1779.7H337.8V1782.2H340.3V1784.7H342.8V1789.8H345.3V1797.4H347.9V1802.5H350.4V1810.0H352.9V1817.6H355.5V1822.7H358.0V1832.8H360.5V1842.9H363.1V1853.1H365.6V1863.2H368.1V1873.3H370.6V1885.9H373.2V1901.1H375.7V1918.8H378.2V1936.5H380.8V1956.8H383.3V1977.0H385.8V1997.3H388.4V2017.5H390.9V2037.7H393.4V2065.6H395.9V2121.2H398.5V2171.8H401.0V2204.7H403.5V2235.1H406.1V2265.4H408.6V2293.3H411.1V2318.6H413.7V2341.3H416.2V2359.1H418.7V2379.3H421.2V2397.0H423.8V2414.7H426.3V2429.9H428.8V2445.1H431.4V2457.7H433.9V2470.4H436.4V2483.0H439.0V2490.6H441.5V2498.2H444.0V2505.8H446.5V2510.9H449.1V2515.9H451.6V2518.4H454.1V2523.5H456.7V2526.0H459.2V2528.6H461.7V2531.1H464.3V2533.6H469.3V2536.2H474.4V2538.7H479.4V2541.2H487.0V2543.7H497.1V2546.3H525.0"/>
<path shape-rendering="crispEdges" fill="none" stroke="#008000" stroke-width="7.6" stroke-linejoin="miter" stroke-linecap="butt" d="M152.3 2068.1H160.9V2070.6H166.0V2068.1H171.0V2065.6H173.6V2068.1H176.1V2070.6H178.6V2075.7H186.2V2078.2H188.7V2075.7H191.3V2078.2H193.8V2075.7H196.3V2078.2H198.9V2080.8H203.9V2078.2H209.0V2083.3H211.5V2080.8H214.0V2083.3H219.1V2080.8H226.7V2078.2H231.7V2083.3H239.3V2080.8H241.9V2083.3H244.4V2085.8H246.9V2083.3H252.0V2085.8H254.5V2088.3H259.6V2085.8H262.1V2088.3H264.6V2090.9H269.7V2093.4H272.2V2090.9H274.8V2088.3H279.8V2085.8H292.5V2088.3H295.0V2090.9H297.5V2093.4H300.1V2090.9H302.6V2088.3H305.1V2083.3H310.2V2085.8H315.2V2090.9H320.3V2093.4H340.5V2095.9H345.6V2098.5H350.7V2101.0H355.7V2103.5H358.2V2108.6H360.8V2118.7H363.3V2123.8H365.8V2128.8H368.4V2133.9H370.9V2141.5H373.4V2149.1H376.0V2161.7H378.5V2174.4H381.0V2189.5H383.5V2202.2H386.1V2219.9H388.6V2237.6H391.1V2262.9H393.7V2288.2H396.2V2313.5H398.7V2338.8H401.3V2364.1H403.8V2389.4H406.3V2404.6H408.8V2422.3H411.4V2437.5H413.9V2455.2H416.4V2472.9H419.0V2483.0H421.5V2493.1H424.0V2503.3H426.6V2508.3H429.1V2513.4H431.6V2518.4H434.1V2521.0H436.7V2523.5H439.2V2526.0H441.7V2528.6H444.3V2531.1H446.8V2533.6H451.9V2536.2H454.4V2538.7H462.0V2541.2H469.6V2543.7H482.2V2546.3H499.9V2548.8H1799.8"/>
<rect x="1346.4" y="1519.2" width="381" height="296.4" fill="#fff" stroke="#000" stroke-width="2" shape-rendering="crispEdges"/>
<path d="M1378.5 1572.6H1513.5" stroke="#ff00ff" stroke-width="7.6" fill="none" shape-rendering="crispEdges"/>
<text class="sa" x="1523.3" y="1592.1" font-size="57" letter-spacing="0.6">4TCSZ</text>
<path d="M1378.5 1643.8H1513.5" stroke="#0000ff" stroke-width="7.6" fill="none" shape-rendering="crispEdges"/>
<text class="sa" x="1523.3" y="1660.8" font-size="57" letter-spacing="0.6">T4CSZ</text>
<path d="M1378.5 1713.2H1513.5" stroke="#008000" stroke-width="7.6" fill="none" shape-rendering="crispEdges"/>
<text class="sa" x="1523.3" y="1730.6" font-size="57" letter-spacing="0.6">6CSZ</text>
<path d="M1378.5 1782.3H1513.5" stroke="#ff0000" stroke-width="7.6" fill="none" shape-rendering="crispEdges"/>
<text class="sa" x="1523.3" y="1800" font-size="57" letter-spacing="0.6">4CSZ</text>
<text class="sa" x="434" y="1558.4" font-size="56.5" letter-spacing="1.2">(b)</text>
<text class="sa" transform="translate(97.8 2108) rotate(-90)" font-size="56">f<tspan dx="-1.4">(</tspan><tspan dx="3.4">R</tspan><tspan font-size="58" dx="-4.5" dy="3.5" font-family="'DejaVu Sans','Liberation Sans',sans-serif">∞</tspan><tspan dy="-3.5" dx="0.2">)</tspan></text>
<text class="sa" x="152.4" y="2638.8" font-size="51" letter-spacing="0.9" text-anchor="middle">300</text>
<text class="sa" x="480.1" y="2638.8" font-size="51" letter-spacing="0.9" text-anchor="middle">400</text>
<text class="sa" x="808.9" y="2638.8" font-size="51" letter-spacing="0.9" text-anchor="middle">500</text>
<text class="sa" x="1138.3" y="2638.8" font-size="51" letter-spacing="0.9" text-anchor="middle">600</text>
<text class="sa" x="1467.8" y="2638.8" font-size="51" letter-spacing="0.9" text-anchor="middle">700</text>
<text class="sa" x="1797.5" y="2638.8" font-size="51" letter-spacing="0.9" text-anchor="middle">800</text>
<text class="sa" x="743.3" y="2705.2" font-size="56" textLength="424" lengthAdjust="spacing">wavelength (nm)</text>
</g>
</svg></body></html>
